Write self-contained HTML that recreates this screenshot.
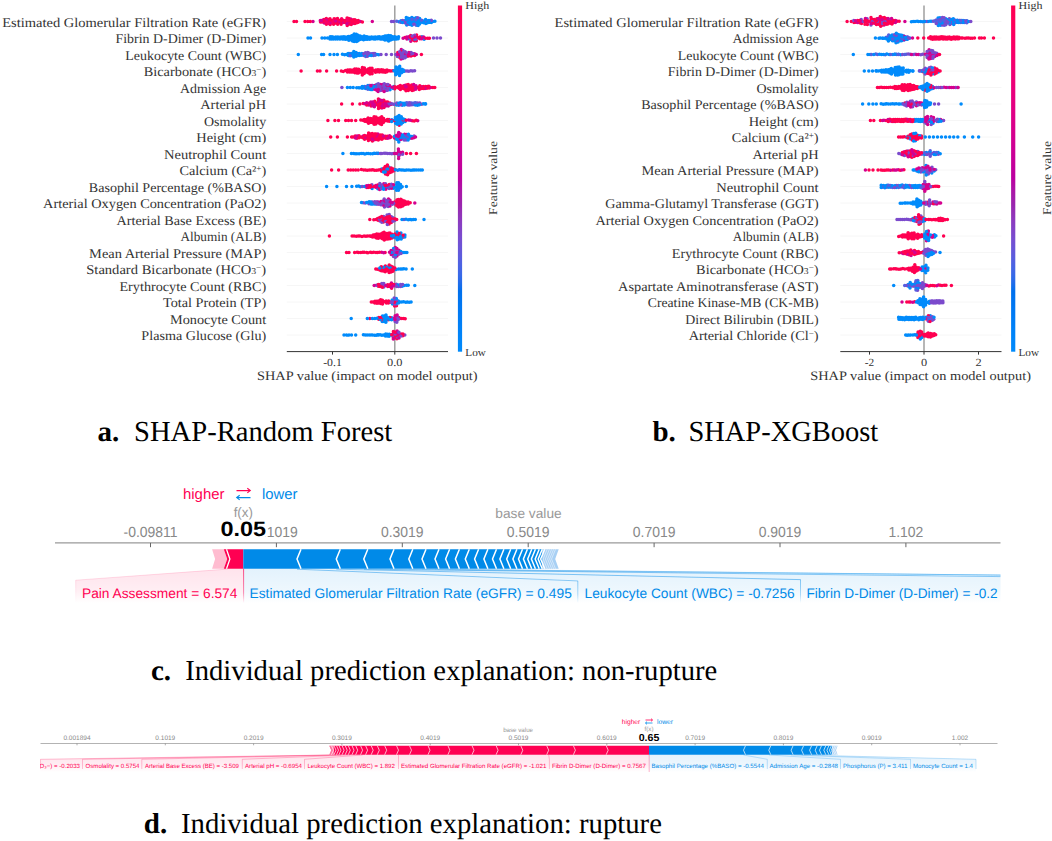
<!DOCTYPE html>
<html><head><meta charset="utf-8"><style>
html,body{margin:0;padding:0;background:#fff;}
body{width:1052px;height:841px;overflow:hidden;}
svg{display:block;}
</style></head><body>
<svg width="1052" height="841" viewBox="0 0 1052 841" text-rendering="geometricPrecision">
<defs>
<linearGradient id="cbar" x1="0" y1="0" x2="0" y2="1"><stop offset="0.000" stop-color="#ff0051"/><stop offset="0.025" stop-color="#ff0056"/><stop offset="0.050" stop-color="#ff005a"/><stop offset="0.075" stop-color="#fd005e"/><stop offset="0.100" stop-color="#fb0063"/><stop offset="0.125" stop-color="#f90067"/><stop offset="0.150" stop-color="#f6006b"/><stop offset="0.175" stop-color="#f30070"/><stop offset="0.200" stop-color="#f00074"/><stop offset="0.225" stop-color="#ed0078"/><stop offset="0.250" stop-color="#e9007c"/><stop offset="0.275" stop-color="#e60080"/><stop offset="0.300" stop-color="#e20084"/><stop offset="0.325" stop-color="#de0088"/><stop offset="0.350" stop-color="#d9008b"/><stop offset="0.375" stop-color="#d5008f"/><stop offset="0.400" stop-color="#d00093"/><stop offset="0.425" stop-color="#cb0096"/><stop offset="0.450" stop-color="#c60099"/><stop offset="0.475" stop-color="#c0009c"/><stop offset="0.500" stop-color="#bb00a0"/><stop offset="0.525" stop-color="#b010a5"/><stop offset="0.550" stop-color="#a51ca9"/><stop offset="0.575" stop-color="#9a25ae"/><stop offset="0.600" stop-color="#9332b7"/><stop offset="0.625" stop-color="#8b3cc0"/><stop offset="0.650" stop-color="#8145c8"/><stop offset="0.675" stop-color="#774ed0"/><stop offset="0.700" stop-color="#6a55d7"/><stop offset="0.725" stop-color="#5c5cdd"/><stop offset="0.750" stop-color="#4b63e3"/><stop offset="0.775" stop-color="#3b68e7"/><stop offset="0.800" stop-color="#236cea"/><stop offset="0.825" stop-color="#0070ed"/><stop offset="0.850" stop-color="#0074f0"/><stop offset="0.875" stop-color="#0078f3"/><stop offset="0.900" stop-color="#007cf5"/><stop offset="0.925" stop-color="#0080f7"/><stop offset="0.950" stop-color="#0084f9"/><stop offset="0.975" stop-color="#0087fa"/><stop offset="1.000" stop-color="#008bfb"/></linearGradient>
<clipPath id="clipc"><rect x="0" y="440" width="1000.5" height="200"/></clipPath>
<clipPath id="clipd"><rect x="40" y="700" width="960" height="100"/></clipPath>
</defs>
<line x1="286.8" x2="448" y1="21.5" y2="21.5" stroke="#f6f6f6" stroke-width="1"/>
<line x1="286.8" x2="448" y1="38.0" y2="38.0" stroke="#f6f6f6" stroke-width="1"/>
<line x1="286.8" x2="448" y1="54.5" y2="54.5" stroke="#f6f6f6" stroke-width="1"/>
<line x1="286.8" x2="448" y1="71.0" y2="71.0" stroke="#f6f6f6" stroke-width="1"/>
<line x1="286.8" x2="448" y1="87.5" y2="87.5" stroke="#f6f6f6" stroke-width="1"/>
<line x1="286.8" x2="448" y1="104.0" y2="104.0" stroke="#f6f6f6" stroke-width="1"/>
<line x1="286.8" x2="448" y1="120.5" y2="120.5" stroke="#f6f6f6" stroke-width="1"/>
<line x1="286.8" x2="448" y1="137.0" y2="137.0" stroke="#f6f6f6" stroke-width="1"/>
<line x1="286.8" x2="448" y1="153.5" y2="153.5" stroke="#f6f6f6" stroke-width="1"/>
<line x1="286.8" x2="448" y1="170.0" y2="170.0" stroke="#f6f6f6" stroke-width="1"/>
<line x1="286.8" x2="448" y1="186.5" y2="186.5" stroke="#f6f6f6" stroke-width="1"/>
<line x1="286.8" x2="448" y1="203.0" y2="203.0" stroke="#f6f6f6" stroke-width="1"/>
<line x1="286.8" x2="448" y1="219.5" y2="219.5" stroke="#f6f6f6" stroke-width="1"/>
<line x1="286.8" x2="448" y1="236.0" y2="236.0" stroke="#f6f6f6" stroke-width="1"/>
<line x1="286.8" x2="448" y1="252.5" y2="252.5" stroke="#f6f6f6" stroke-width="1"/>
<line x1="286.8" x2="448" y1="269.0" y2="269.0" stroke="#f6f6f6" stroke-width="1"/>
<line x1="286.8" x2="448" y1="285.5" y2="285.5" stroke="#f6f6f6" stroke-width="1"/>
<line x1="286.8" x2="448" y1="302.0" y2="302.0" stroke="#f6f6f6" stroke-width="1"/>
<line x1="286.8" x2="448" y1="318.5" y2="318.5" stroke="#f6f6f6" stroke-width="1"/>
<line x1="286.8" x2="448" y1="335.0" y2="335.0" stroke="#f6f6f6" stroke-width="1"/>
<line x1="394.8" x2="394.8" y1="5.5" y2="351.5" stroke="#999" stroke-width="1.4"/>
<g fill="none" stroke-width="3.5" stroke-linecap="round">
<path d="M339.5 20.5h0M356.7 20.7h0M330.2 24.6h0M331.9 20.6h0M343.0 20.3h0M341.4 22.5h0M347.2 25.5h0M354.5 21.6h0M294.0 21.5h0" stroke="#ff0051"/>
<path d="M432.8 21.6h0M425.8 23.4h0M419.6 18.4h0M411.9 17.4h0M414.0 22.2h0" stroke="#008bfb"/>
<path d="M350.7 18.9h0M343.6 22.4h0M352.8 23.4h0" stroke="#d5008f"/>
<path d="M404.6 20.8h0M415.7 23.4h0M425.5 21.3h0M416.2 25.3h0M427.3 20.8h0" stroke="#555fe0"/>
<path d="M328.3 19.5h0" stroke="#f90067"/>
<path d="M406.7 25.1h0M412.0 25.3h0M419.8 20.3h0M434.9 21.3h0M412.1 23.1h0" stroke="#008bfb"/>
<path d="M334.1 18.8h0M334.1 22.5h0M330.0 18.7h0M350.9 22.7h0M358.3 20.6h0M337.4 20.6h0M326.3 18.5h0M347.3 21.7h0M356.9 22.8h0M327.8 21.6h0M337.7 22.2h0M345.2 22.5h0" stroke="#ff0051"/>
<path d="M333.7 20.6h0" stroke="#f90067"/>
<path d="M324.3 23.1h0M360.5 21.5h0M339.5 22.5h0" stroke="#d5008f"/>
<path d="M391.5 21.5h0M404.6 22.7h0" stroke="#7b4acc"/>
<path d="M416.0 17.8h0M431.3 22.6h0M429.4 22.2h0M418.1 25.5h0M427.5 22.7h0M418.0 19.8h0M398.9 21.8h0M417.6 23.5h0M421.7 22.2h0" stroke="#008bfb"/>
<path d="M341.6 18.8h0" stroke="#f90067"/>
<path d="M330.0 20.7h0M348.8 18.6h0M352.6 21.5h0M341.3 20.8h0M305.0 21.5h0M353.1 19.7h0" stroke="#ff0051"/>
<path d="M408.4 20.3h0" stroke="#555fe0"/>
<path d="M406.6 21.2h0M431.3 20.3h0M393.5 21.5h0M408.4 24.2h0" stroke="#7b4acc"/>
<path d="M349.0 22.5h0" stroke="#d5008f"/>
<path d="M419.6 24.1h0M414.1 20.4h0M416.2 21.5h0M410.5 22.6h0M412.3 21.1h0M413.9 18.5h0M429.0 20.4h0M425.6 19.5h0" stroke="#008bfb"/>
<path d="M320.5 22.0h0M358.3 22.3h0M335.6 19.3h0M335.5 23.1h0M326.4 24.2h0M337.7 24.2h0M324.0 19.4h0M348.8 24.2h0" stroke="#ff0051"/>
<path d="M326.3 20.2h0M372.3 21.5h0M346.9 23.7h0M335.7 21.1h0" stroke="#d5008f"/>
<path d="M400.6 22.2h0M413.8 24.3h0" stroke="#7b4acc"/>
<path d="M410.5 20.6h0M423.3 20.9h0M401.0 20.7h0M419.5 22.4h0M410.1 24.5h0M406.3 19.5h0" stroke="#008bfb"/>
<path d="M362.4 21.9h0M296.5 21.5h0M345.1 20.5h0M349.2 20.5h0M347.1 17.9h0M354.9 23.5h0M333.6 24.3h0M337.5 18.5h0" stroke="#ff0051"/>
<path d="M322.2 22.1h0M331.9 22.7h0M347.2 19.7h0" stroke="#f90067"/>
<path d="M320.3 20.5h0M313.0 21.5h0" stroke="#d5008f"/>
<path d="M421.6 20.3h0" stroke="#555fe0"/>
<path d="M406.6 23.0h0M402.6 20.5h0" stroke="#7b4acc"/>
<path d="M410.3 18.6h0M408.1 22.4h0M408.1 18.3h0M423.6 22.7h0M418.1 21.6h0M402.4 22.5h0M406.3 17.4h0" stroke="#008bfb"/>
<path d="M417.7 17.8h0" stroke="#7b4acc"/>
<path d="M329.7 22.9h0M322.4 20.2h0" stroke="#d5008f"/>
<path d="M351.2 24.6h0M310.3 21.5h0M351.0 20.7h0M307.7 21.5h0M354.9 19.7h0M324.5 21.1h0M341.1 24.3h0" stroke="#ff0051"/>
<path d="M326.0 22.1h0M328.3 23.4h0" stroke="#f90067"/>
<path d="M412.0 19.3h0M415.7 19.7h0M396.7 21.3h0" stroke="#555fe0"/>
<path d="M408.8 38.7h0M367.7 37.0h0M392.3 36.7h0M348.8 40.2h0M352.5 41.1h0M380.8 38.8h0M356.2 35.8h0M360.2 36.0h0M365.5 39.0h0M383.4 36.8h0M363.5 39.8h0M341.3 37.0h0M367.4 39.2h0M341.1 38.8h0M384.8 37.8h0M424.1 39.2h0M365.6 37.1h0M394.2 38.8h0M333.6 39.1h0M337.8 36.9h0M386.7 38.5h0M367.8 37.2h0M335.6 39.0h0M358.2 37.1h0M358.2 38.8h0M337.4 38.9h0M390.7 35.7h0" stroke="#008bfb"/>
<path d="M425.5 38.3h0M416.3 40.8h0M405.0 37.6h0" stroke="#ff0051"/>
<path d="M373.9 39.0h0M392.3 38.9h0M382.8 37.1h0M364.1 36.0h0M383.3 38.7h0M347.2 37.0h0M361.7 39.0h0M350.2 39.7h0M385.3 37.2h0M368.3 38.6h0M330.2 36.8h0M354.2 41.5h0M351.0 37.0h0M386.4 39.7h0M356.8 36.9h0M377.6 37.1h0M388.8 37.1h0M421.9 36.8h0M359.9 39.5h0M396.5 39.0h0M386.6 35.9h0M371.9 38.7h0M362.3 38.8h0M339.4 37.2h0" stroke="#008bfb"/>
<path d="M410.8 41.2h0M403.1 38.3h0" stroke="#d5008f"/>
<path d="M416.6 35.1h0M410.7 35.4h0M419.9 38.7h0" stroke="#ff0051"/>
<path d="M410.5 39.1h0" stroke="#7b4acc"/>
<path d="M398.6 36.8h0M344.9 38.8h0M379.2 38.1h0M358.3 37.1h0M356.7 39.0h0M352.3 35.5h0M356.3 34.2h0M375.3 37.1h0M375.5 39.0h0M390.9 38.6h0M384.9 39.9h0M392.6 38.9h0M362.6 37.0h0M308.0 38.0h0M388.4 39.2h0M364.0 39.4h0M349.0 37.2h0M344.9 37.2h0M396.2 37.2h0M348.4 36.4h0M379.3 36.7h0M354.1 36.1h0M339.7 39.1h0M394.5 36.7h0M381.1 39.1h0M335.8 37.1h0" stroke="#008bfb"/>
<path d="M416.5 37.1h0M414.5 40.8h0M412.7 39.8h0" stroke="#ff0051"/>
<path d="M437.0 38.0h0" stroke="#7b4acc"/>
<path d="M342.8 38.8h0M390.6 39.9h0M359.9 37.9h0M343.6 37.0h0M366.4 36.8h0M356.5 41.5h0M387.1 36.6h0M377.6 38.7h0M379.3 38.8h0M392.7 37.4h0M344.7 37.0h0M394.6 37.2h0M350.3 37.9h0M350.6 36.2h0M371.6 37.1h0M354.2 34.0h0M388.6 37.1h0M354.5 37.3h0M414.6 39.0h0M310.5 38.0h0M340.7 37.6h0M388.6 35.4h0M369.9 37.3h0" stroke="#008bfb"/>
<path d="M416.1 38.9h0M433.5 38.0h0M414.6 35.2h0" stroke="#7b4acc"/>
<path d="M420.0 36.9h0" stroke="#ff0051"/>
<path d="M421.7 38.7h0M408.9 36.8h0" stroke="#d5008f"/>
<path d="M410.5 37.3h0M429.4 38.3h0M412.5 38.1h0" stroke="#ff0051"/>
<path d="M348.8 38.1h0M354.3 40.0h0M383.0 39.1h0M360.5 37.0h0M398.2 38.8h0M390.8 37.0h0M322.0 38.0h0M331.7 38.9h0M346.7 37.9h0M354.1 37.8h0M394.8 38.9h0M352.5 36.9h0M343.1 37.0h0M346.9 39.1h0M358.2 38.7h0M384.9 39.3h0M333.6 37.3h0M363.5 37.9h0M390.6 37.7h0M386.6 37.8h0M373.6 37.3h0M324.8 38.0h0M356.0 39.9h0" stroke="#008bfb"/>
<path d="M440.5 38.0h0" stroke="#7b4acc"/>
<path d="M414.3 37.1h0M406.8 37.1h0" stroke="#d5008f"/>
<path d="M388.6 41.0h0M350.8 38.9h0M354.5 39.1h0M360.6 38.8h0M385.0 35.9h0M345.5 39.3h0M358.0 40.7h0M332.0 36.7h0M352.2 39.0h0M327.5 38.0h0M352.4 37.1h0M356.4 38.0h0M369.7 39.3h0M363.9 37.3h0M352.8 38.8h0M361.7 36.9h0M389.2 39.1h0M381.3 37.3h0M343.1 39.0h0M381.0 37.3h0M366.2 39.0h0M358.1 35.2h0M348.9 38.9h0M329.9 38.9h0" stroke="#008bfb"/>
<path d="M406.9 38.9h0M423.6 37.1h0" stroke="#d5008f"/>
<path d="M427.7 38.2h0M418.3 37.7h0" stroke="#ff0051"/>
<path d="M412.2 36.1h0" stroke="#7b4acc"/>
<path d="M363.8 55.6h0M405.2 51.7h0M373.3 55.4h0M403.0 58.4h0" stroke="#7b4acc"/>
<path d="M334.0 54.5h0M321.6 54.5h0M348.4 55.4h0M361.5 54.3h0M344.6 54.8h0M353.7 53.4h0" stroke="#008bfb"/>
<path d="M371.3 53.7h0M360.0 54.6h0M365.7 56.6h0" stroke="#555fe0"/>
<path d="M401.0 59.0h0" stroke="#d5008f"/>
<path d="M412.6 55.3h0" stroke="#ff0051"/>
<path d="M357.4 53.5h0M353.8 55.5h0M361.6 55.2h0M330.0 54.5h0M355.9 52.4h0" stroke="#008bfb"/>
<path d="M358.0 54.5h0M373.1 53.5h0M406.9 56.5h0M391.5 54.5h0M367.5 56.3h0" stroke="#7b4acc"/>
<path d="M399.3 53.6h0M397.8 52.5h0M411.0 56.1h0" stroke="#ff0051"/>
<path d="M407.2 54.7h0M401.3 49.6h0" stroke="#d5008f"/>
<path d="M399.5 55.8h0M414.5 53.7h0" stroke="#d5008f"/>
<path d="M403.0 50.4h0M386.2 54.5h0M403.1 54.3h0M374.8 53.4h0" stroke="#7b4acc"/>
<path d="M355.6 54.3h0M346.4 54.4h0M376.9 54.4h0M361.9 53.4h0M342.4 54.2h0M337.4 54.5h0M369.2 55.2h0" stroke="#008bfb"/>
<path d="M401.2 51.6h0M414.6 55.4h0" stroke="#ff0051"/>
<path d="M365.4 54.7h0M357.9 55.4h0M353.8 57.1h0M359.3 53.4h0" stroke="#008bfb"/>
<path d="M369.2 53.3h0M363.8 53.7h0M367.7 52.4h0M401.5 55.5h0M395.8 54.4h0M401.0 53.6h0M399.6 51.8h0M405.0 55.6h0" stroke="#7b4acc"/>
<path d="M399.5 57.3h0M408.6 56.1h0" stroke="#ff0051"/>
<path d="M349.9 53.6h0" stroke="#555fe0"/>
<path d="M397.4 56.4h0M365.5 52.7h0M367.4 54.6h0M405.1 57.7h0M403.4 56.1h0M411.0 52.4h0" stroke="#7b4acc"/>
<path d="M351.9 55.6h0M359.7 55.5h0M378.7 54.7h0M298.3 54.5h0M371.2 55.5h0" stroke="#008bfb"/>
<path d="M397.7 54.6h0M408.9 52.5h0M416.3 54.6h0M405.3 53.6h0" stroke="#d5008f"/>
<path d="M356.0 56.3h0M348.2 53.4h0M323.6 54.5h0M351.7 53.6h0M353.8 51.5h0" stroke="#008bfb"/>
<path d="M350.1 55.7h0M375.1 55.3h0" stroke="#555fe0"/>
<path d="M421.4 54.5h0" stroke="#ff0051"/>
<path d="M381.0 54.5h0M412.7 53.6h0M410.9 54.1h0M403.2 52.3h0M401.2 57.3h0M406.8 52.9h0" stroke="#7b4acc"/>
<path d="M408.8 54.3h0" stroke="#d5008f"/>
<path d="M362.5 69.2h0M372.1 70.1h0M345.5 70.6h0M354.9 70.9h0M369.8 71.8h0M358.9 71.3h0M368.3 68.9h0M349.3 70.0h0M347.4 72.0h0M347.6 70.1h0M364.2 73.6h0M341.3 71.0h0M362.2 72.9h0" stroke="#ff0051"/>
<path d="M412.6 71.0h0M405.3 71.1h0" stroke="#7b4acc"/>
<path d="M395.8 72.7h0" stroke="#008bfb"/>
<path d="M375.5 72.3h0M385.2 70.4h0M349.5 72.0h0M362.4 67.5h0M360.4 71.9h0M387.0 69.9h0M381.7 71.8h0M389.3 70.8h0M358.6 69.2h0M392.8 70.8h0M364.2 69.9h0M364.4 67.9h0" stroke="#ff0051"/>
<path d="M410.8 70.7h0M407.1 70.9h0" stroke="#7b4acc"/>
<path d="M397.8 69.8h0M399.7 66.2h0" stroke="#008bfb"/>
<path d="M399.5 75.6h0M399.5 68.1h0M399.9 70.0h0M398.0 71.7h0M403.6 71.6h0" stroke="#008bfb"/>
<path d="M383.1 70.0h0M377.9 69.7h0M336.6 71.0h0M374.0 70.8h0M371.8 72.0h0M379.5 72.0h0M360.8 70.2h0M387.0 71.7h0M383.2 71.9h0M358.4 73.1h0M368.3 70.8h0" stroke="#ff0051"/>
<path d="M356.9 71.2h0M343.3 71.4h0M356.5 69.1h0M354.7 69.1h0M372.1 73.8h0M362.7 71.0h0M390.9 71.1h0M370.0 74.0h0M350.8 70.1h0M351.2 72.0h0" stroke="#ff0051"/>
<path d="M396.0 67.1h0M401.8 70.9h0M403.3 69.9h0M394.0 70.7h0M399.5 71.9h0M397.7 68.0h0" stroke="#008bfb"/>
<path d="M372.0 68.2h0M301.1 71.0h0M362.3 74.9h0M370.0 68.2h0M368.3 72.7h0M366.3 70.1h0M366.3 72.1h0M352.9 71.9h0M320.0 71.0h0" stroke="#ff0051"/>
<path d="M395.7 74.7h0M396.1 68.9h0M401.5 72.7h0M395.7 70.7h0M399.8 73.7h0" stroke="#008bfb"/>
<path d="M414.6 70.7h0" stroke="#7b4acc"/>
<path d="M379.5 70.0h0M385.3 72.2h0M375.8 70.1h0M354.9 72.8h0M356.9 73.1h0M377.6 71.8h0M317.4 71.0h0M370.4 70.0h0M353.1 69.9h0M364.4 71.9h0M381.3 69.8h0M326.6 71.0h0" stroke="#ff0051"/>
<path d="M401.8 69.2h0M397.8 73.5h0" stroke="#008bfb"/>
<path d="M408.8 71.3h0" stroke="#7b4acc"/>
<path d="M341.9 87.5h0" stroke="#7b4acc"/>
<path d="M382.3 88.4h0M367.1 86.7h0M385.7 88.5h0M381.9 90.2h0" stroke="#d5008f"/>
<path d="M350.3 87.5h0M369.7 87.6h0M393.2 88.5h0M368.0 85.5h0M371.4 87.3h0M367.1 88.3h0" stroke="#008bfb"/>
<path d="M419.4 87.4h0M411.8 86.6h0M408.0 86.6h0M409.9 87.5h0M429.1 88.1h0M398.9 88.3h0M400.3 85.4h0M406.2 84.9h0M413.7 90.0h0M397.0 87.3h0" stroke="#ff0051"/>
<path d="M394.8 88.7h0M408.3 88.7h0M408.2 90.4h0M413.9 86.4h0M409.8 85.9h0" stroke="#ff0051"/>
<path d="M385.9 86.8h0M368.6 88.3h0M365.9 88.5h0M370.8 89.6h0M389.4 87.7h0M372.6 87.6h0M372.0 85.5h0M390.0 89.7h0" stroke="#008bfb"/>
<path d="M382.1 86.6h0M389.5 85.6h0M430.7 87.5h0M378.1 91.6h0M416.0 85.7h0" stroke="#d5008f"/>
<path d="M380.2 90.5h0M383.9 89.6h0M376.6 84.5h0" stroke="#7b4acc"/>
<path d="M402.4 88.3h0M406.0 90.7h0M425.5 86.5h0M411.6 88.8h0" stroke="#ff0051"/>
<path d="M372.3 89.6h0M393.8 86.5h0M347.4 87.5h0" stroke="#008bfb"/>
<path d="M404.4 85.4h0M386.1 84.8h0M368.9 86.5h0M387.9 86.6h0M364.8 87.5h0M374.3 85.4h0M382.4 84.5h0M404.6 87.2h0" stroke="#d5008f"/>
<path d="M387.8 84.6h0M387.9 88.4h0M376.4 88.2h0M384.1 87.5h0" stroke="#7b4acc"/>
<path d="M369.6 85.4h0M367.9 89.3h0" stroke="#555fe0"/>
<path d="M417.7 87.4h0M428.8 86.3h0M394.7 86.7h0M412.1 90.4h0M408.2 84.6h0M423.3 86.5h0M402.6 86.3h0M434.8 87.4h0M411.7 85.0h0M404.5 89.1h0M413.9 88.2h0" stroke="#ff0051"/>
<path d="M353.2 87.5h0M373.9 88.5h0M364.4 86.4h0M376.3 86.2h0M362.2 86.4h0" stroke="#008bfb"/>
<path d="M380.3 84.6h0M421.2 86.8h0M374.7 89.2h0" stroke="#d5008f"/>
<path d="M378.3 87.7h0M374.3 87.3h0" stroke="#7b4acc"/>
<path d="M370.9 87.4h0M372.5 85.6h0M385.7 90.5h0M387.5 90.3h0M384.3 83.7h0M383.7 85.7h0" stroke="#7b4acc"/>
<path d="M419.8 85.7h0M426.9 88.3h0M427.4 86.4h0M406.4 88.6h0M400.5 87.4h0" stroke="#ff0051"/>
<path d="M360.0 87.7h0M370.1 89.2h0M362.1 88.2h0M364.2 88.1h0M358.7 87.7h0M371.6 89.4h0" stroke="#008bfb"/>
<path d="M366.2 86.5h0" stroke="#555fe0"/>
<path d="M391.9 87.2h0M406.1 86.8h0M415.7 87.7h0" stroke="#d5008f"/>
<path d="M380.2 86.5h0M378.2 85.8h0M380.1 88.3h0M378.3 83.8h0" stroke="#7b4acc"/>
<path d="M356.7 87.8h0M373.5 86.7h0M367.7 87.5h0" stroke="#008bfb"/>
<path d="M371.0 85.6h0M378.3 89.5h0M413.7 84.4h0M425.0 88.4h0M376.7 90.2h0M415.7 89.3h0M384.1 91.4h0" stroke="#d5008f"/>
<path d="M421.7 88.5h0M400.4 89.4h0M432.9 87.4h0M423.4 88.4h0M398.5 86.4h0M419.3 89.5h0M409.9 89.5h0" stroke="#ff0051"/>
<path d="M383.9 101.9h0M389.8 104.8h0M388.0 103.8h0" stroke="#d5008f"/>
<path d="M411.9 104.7h0M419.7 103.0h0M395.5 103.9h0M394.9 104.3h0M408.1 103.1h0M396.9 102.9h0" stroke="#7b4acc"/>
<path d="M406.2 104.6h0" stroke="#008bfb"/>
<path d="M363.2 103.6h0M389.9 103.1h0M341.6 104.0h0M385.9 102.1h0M376.3 103.1h0" stroke="#ff0051"/>
<path d="M414.1 103.0h0M411.7 102.9h0" stroke="#555fe0"/>
<path d="M381.9 108.1h0M384.4 103.7h0" stroke="#d5008f"/>
<path d="M378.4 99.1h0M374.8 101.2h0M369.1 103.3h0M378.7 106.8h0M374.6 103.1h0M387.6 102.1h0M359.9 104.0h0" stroke="#ff0051"/>
<path d="M402.2 103.2h0" stroke="#008bfb"/>
<path d="M417.5 103.1h0M387.9 104.3h0M421.7 104.2h0" stroke="#7b4acc"/>
<path d="M423.4 103.7h0M419.4 104.8h0M396.6 105.0h0M400.4 102.8h0M425.3 103.8h0" stroke="#008bfb"/>
<path d="M413.5 104.6h0" stroke="#555fe0"/>
<path d="M380.5 107.6h0M391.4 104.2h0M371.0 104.2h0M384.0 107.5h0M371.1 106.1h0" stroke="#ff0051"/>
<path d="M372.8 105.7h0M368.6 105.0h0M364.8 103.8h0" stroke="#d5008f"/>
<path d="M408.0 105.0h0" stroke="#7b4acc"/>
<path d="M380.0 102.1h0M383.8 100.2h0M383.8 105.7h0M366.7 104.9h0M376.7 104.7h0" stroke="#ff0051"/>
<path d="M388.2 106.0h0M374.6 104.8h0M372.8 102.0h0M385.9 103.9h0M372.7 103.8h0" stroke="#d5008f"/>
<path d="M417.5 105.2h0M402.3 105.2h0M398.7 105.2h0M404.3 105.1h0" stroke="#008bfb"/>
<path d="M406.5 102.7h0" stroke="#555fe0"/>
<path d="M397.5 104.1h0M409.7 102.8h0M389.6 103.9h0" stroke="#7b4acc"/>
<path d="M415.4 104.9h0M404.1 103.3h0" stroke="#008bfb"/>
<path d="M378.5 101.0h0M352.4 104.0h0M380.1 105.7h0M382.3 102.4h0" stroke="#ff0051"/>
<path d="M382.0 100.6h0M370.8 102.1h0M385.7 106.0h0M374.4 106.8h0" stroke="#d5008f"/>
<path d="M415.5 102.8h0" stroke="#555fe0"/>
<path d="M380.1 100.0h0M382.0 104.3h0M366.7 102.7h0M378.5 103.1h0M382.2 106.1h0" stroke="#d5008f"/>
<path d="M409.8 104.9h0M391.8 103.7h0M400.7 104.7h0M393.5 104.2h0" stroke="#7b4acc"/>
<path d="M398.7 103.2h0M425.6 104.0h0" stroke="#008bfb"/>
<path d="M378.4 104.7h0M380.0 103.7h0M378.5 108.6h0" stroke="#ff0051"/>
<path d="M364.8 121.3h0M374.1 116.8h0M362.8 120.2h0M395.3 121.5h0M393.5 120.6h0M377.7 118.6h0M399.2 125.2h0M375.9 116.9h0M345.7 120.5h0M371.8 120.8h0M373.8 120.7h0M375.8 122.5h0M387.5 121.1h0" stroke="#ff0051"/>
<path d="M401.2 120.2h0M395.5 119.6h0" stroke="#008bfb"/>
<path d="M399.1 115.6h0M401.2 124.0h0M395.4 117.5h0M402.8 122.5h0M399.4 123.3h0" stroke="#008bfb"/>
<path d="M403.1 120.4h0M381.6 124.6h0M366.3 119.6h0M368.1 119.8h0M348.5 120.5h0M381.7 120.5h0M389.0 119.6h0M383.6 122.3h0M412.2 120.7h0" stroke="#ff0051"/>
<path d="M417.7 120.7h0" stroke="#d5008f"/>
<path d="M399.2 121.5h0M395.6 123.2h0M389.9 120.4h0M397.3 124.3h0M399.2 117.7h0" stroke="#008bfb"/>
<path d="M381.3 122.8h0M381.7 116.8h0M334.9 120.5h0M379.6 119.8h0M370.4 118.6h0M377.5 120.4h0M377.8 122.4h0M416.2 120.3h0M379.9 123.7h0M379.6 121.6h0" stroke="#ff0051"/>
<path d="M381.8 119.0h0M376.2 120.7h0M364.3 119.6h0M351.5 120.5h0M414.2 120.9h0M368.1 117.9h0M338.5 120.5h0M327.9 120.5h0M383.6 118.6h0M383.6 120.5h0M374.0 122.6h0M355.7 120.5h0" stroke="#ff0051"/>
<path d="M401.0 118.3h0M399.2 119.6h0" stroke="#008bfb"/>
<path d="M408.5 120.1h0" stroke="#d5008f"/>
<path d="M410.3 120.3h0" stroke="#d5008f"/>
<path d="M402.9 118.8h0M405.2 121.6h0M401.3 116.7h0M404.7 119.6h0M391.9 119.8h0" stroke="#008bfb"/>
<path d="M360.8 120.1h0M368.5 121.3h0M406.1 120.2h0M389.4 121.3h0M372.0 118.7h0M375.6 118.8h0M370.0 120.8h0M391.3 120.5h0M375.8 124.1h0" stroke="#ff0051"/>
<path d="M391.6 121.4h0M401.2 122.3h0M397.1 120.6h0M397.4 118.6h0M397.4 116.8h0M397.4 122.4h0" stroke="#008bfb"/>
<path d="M374.2 118.5h0M372.2 122.4h0M370.0 122.4h0M374.1 124.2h0M379.6 117.9h0M366.4 121.6h0M368.5 123.3h0M385.5 120.5h0M387.4 119.5h0" stroke="#ff0051"/>
<path d="M383.6 138.0h0M355.2 136.0h0M380.1 138.8h0M357.0 138.2h0M377.9 136.1h0M385.9 138.2h0M370.6 137.7h0M366.7 136.0h0M368.5 134.8h0" stroke="#ff0051"/>
<path d="M400.5 135.8h0M414.1 135.9h0M396.8 137.3h0" stroke="#7b4acc"/>
<path d="M368.6 138.8h0M400.6 133.9h0M406.4 134.5h0" stroke="#d5008f"/>
<path d="M405.9 138.3h0M410.0 138.3h0" stroke="#008bfb"/>
<path d="M374.6 134.1h0M385.5 136.3h0M353.1 137.0h0M359.0 135.8h0M372.4 141.0h0M372.4 137.2h0M364.6 139.2h0M381.6 137.2h0M376.1 137.8h0M378.3 139.9h0" stroke="#ff0051"/>
<path d="M404.6 134.3h0M398.7 132.4h0M374.5 139.7h0M377.9 134.1h0" stroke="#d5008f"/>
<path d="M402.7 138.8h0" stroke="#008bfb"/>
<path d="M406.4 136.1h0" stroke="#7b4acc"/>
<path d="M372.2 135.1h0M368.6 132.9h0M337.4 137.0h0M366.6 138.2h0M382.2 135.1h0M347.4 137.0h0M372.2 133.4h0M381.9 139.2h0M378.2 138.1h0M374.0 138.0h0" stroke="#ff0051"/>
<path d="M394.6 138.1h0M363.2 136.0h0M376.2 136.1h0M413.8 137.7h0M398.7 138.1h0" stroke="#d5008f"/>
<path d="M394.6 136.3h0" stroke="#008bfb"/>
<path d="M364.9 137.3h0M389.8 137.7h0M357.1 136.1h0M355.5 137.9h0" stroke="#d5008f"/>
<path d="M376.0 134.1h0M351.6 137.0h0M361.1 137.1h0M330.7 137.0h0M370.3 133.9h0M362.8 137.8h0" stroke="#ff0051"/>
<path d="M396.6 139.2h0M411.7 136.4h0M398.6 139.9h0M407.8 138.1h0" stroke="#008bfb"/>
<path d="M402.7 137.1h0M408.1 136.3h0" stroke="#7b4acc"/>
<path d="M370.6 139.6h0M387.4 136.2h0M359.1 137.8h0M374.3 136.0h0M380.2 136.7h0" stroke="#ff0051"/>
<path d="M400.7 139.6h0M396.4 135.5h0M389.6 135.8h0M411.9 138.3h0M383.5 136.0h0M398.3 134.4h0M415.5 137.0h0" stroke="#d5008f"/>
<path d="M406.1 140.0h0M404.0 136.1h0" stroke="#7b4acc"/>
<path d="M408.4 134.3h0M404.1 137.8h0" stroke="#008bfb"/>
<path d="M380.3 134.9h0M364.6 135.5h0M391.1 137.1h0M376.2 139.5h0M368.4 140.4h0M368.5 136.9h0M370.7 135.8h0" stroke="#ff0051"/>
<path d="M402.6 134.9h0M408.1 140.0h0M398.8 141.9h0M400.6 137.6h0M410.1 136.3h0" stroke="#008bfb"/>
<path d="M372.2 139.0h0M398.9 136.3h0M387.7 138.2h0" stroke="#d5008f"/>
<path d="M404.2 140.0h0" stroke="#7b4acc"/>
<path d="M381.8 153.5h0M387.7 153.5h0" stroke="#7b4acc"/>
<path d="M363.1 153.4h0M351.4 153.4h0M342.9 153.5h0" stroke="#008bfb"/>
<path d="M398.7 152.8h0" stroke="#d5008f"/>
<path d="M410.6 153.5h0" stroke="#ff0051"/>
<path d="M376.4 153.3h0M374.1 153.3h0M359.1 153.7h0" stroke="#008bfb"/>
<path d="M402.5 152.3h0" stroke="#d5008f"/>
<path d="M393.4 153.6h0M402.6 154.3h0M378.0 153.4h0" stroke="#7b4acc"/>
<path d="M378.1 153.2h0M353.5 153.5h0M361.2 153.4h0" stroke="#008bfb"/>
<path d="M391.8 153.7h0M400.3 154.3h0" stroke="#7b4acc"/>
<path d="M400.4 152.5h0M398.8 156.3h0" stroke="#d5008f"/>
<path d="M380.4 153.6h0M398.5 154.4h0" stroke="#7b4acc"/>
<path d="M394.6 153.4h0M396.4 153.4h0" stroke="#d5008f"/>
<path d="M356.9 153.8h0M370.4 153.7h0M364.9 153.9h0" stroke="#008bfb"/>
<path d="M398.4 149.0h0M398.6 158.5h0" stroke="#d5008f"/>
<path d="M366.8 153.5h0" stroke="#008bfb"/>
<path d="M384.1 153.2h0M389.9 153.5h0" stroke="#7b4acc"/>
<path d="M416.4 153.5h0" stroke="#ff0051"/>
<path d="M368.3 153.5h0M355.1 153.7h0M372.6 153.8h0" stroke="#008bfb"/>
<path d="M406.4 153.5h0" stroke="#ff0051"/>
<path d="M398.5 150.9h0" stroke="#d5008f"/>
<path d="M385.9 153.3h0" stroke="#7b4acc"/>
<path d="M385.7 168.3h0M381.7 169.0h0M401.2 169.9h0M385.6 170.2h0M389.1 167.2h0" stroke="#008bfb"/>
<path d="M383.8 168.3h0M387.6 174.7h0M367.3 170.2h0M380.1 169.7h0M389.2 169.0h0" stroke="#ff0051"/>
<path d="M355.7 170.0h0M374.5 170.3h0M389.0 170.7h0M363.7 170.0h0M371.2 170.1h0M387.5 166.9h0M381.6 171.3h0M387.2 172.8h0M365.4 170.0h0" stroke="#ff0051"/>
<path d="M420.4 169.9h0" stroke="#008bfb"/>
<path d="M389.5 172.8h0M383.8 169.9h0M376.4 170.2h0M391.3 170.1h0M378.3 170.1h0M393.3 169.0h0" stroke="#ff0051"/>
<path d="M397.8 170.3h0M412.9 170.0h0M411.0 170.2h0M399.3 169.8h0" stroke="#008bfb"/>
<path d="M393.4 170.9h0M391.3 168.0h0M395.2 169.7h0M358.2 170.0h0M387.4 171.0h0M385.2 166.6h0" stroke="#ff0051"/>
<path d="M406.7 169.9h0M414.4 170.1h0M395.4 169.7h0M422.3 170.1h0" stroke="#008bfb"/>
<path d="M408.9 170.1h0M404.9 170.2h0M403.0 169.9h0M418.3 170.0h0M416.3 170.1h0" stroke="#008bfb"/>
<path d="M348.2 170.0h0M385.5 174.0h0M391.4 172.0h0M369.3 169.9h0M353.2 170.0h0" stroke="#ff0051"/>
<path d="M338.6 170.0h0M372.8 169.8h0M350.7 170.0h0M387.4 165.0h0M361.4 169.6h0M331.6 170.0h0" stroke="#ff0051"/>
<path d="M383.5 171.9h0M387.7 169.0h0M385.2 171.9h0" stroke="#008bfb"/>
<path d="M396.8 188.3h0M400.5 184.6h0M360.3 186.7h0M346.5 186.5h0M377.8 188.7h0M372.1 188.5h0M397.0 186.6h0M396.5 190.3h0" stroke="#008bfb"/>
<path d="M379.6 189.4h0" stroke="#d5008f"/>
<path d="M377.7 184.9h0M381.4 186.7h0M379.6 187.5h0" stroke="#ff0051"/>
<path d="M396.7 184.5h0M389.1 186.4h0M398.5 188.3h0M358.6 186.1h0M402.2 186.7h0M400.7 186.5h0M364.3 186.4h0" stroke="#008bfb"/>
<path d="M381.4 188.7h0M362.1 186.4h0" stroke="#7b4acc"/>
<path d="M385.8 187.3h0" stroke="#ff0051"/>
<path d="M366.7 187.4h0" stroke="#d5008f"/>
<path d="M383.6 185.5h0M351.9 186.5h0M393.3 188.3h0M398.5 190.2h0M387.2 187.5h0" stroke="#008bfb"/>
<path d="M372.1 186.5h0" stroke="#ff0051"/>
<path d="M368.5 185.6h0M377.7 186.8h0M375.8 185.5h0M383.8 183.7h0" stroke="#d5008f"/>
<path d="M385.5 183.8h0" stroke="#7b4acc"/>
<path d="M387.1 185.5h0M375.7 187.3h0" stroke="#d5008f"/>
<path d="M371.9 184.8h0M389.2 188.4h0" stroke="#7b4acc"/>
<path d="M398.5 182.8h0M394.5 186.9h0M398.5 186.3h0M406.4 186.5h0M379.9 185.7h0M356.6 186.2h0" stroke="#008bfb"/>
<path d="M370.1 187.3h0" stroke="#ff0051"/>
<path d="M398.3 184.6h0M393.2 186.8h0M400.6 188.1h0M366.2 186.3h0" stroke="#008bfb"/>
<path d="M389.3 184.6h0M368.1 187.5h0M370.3 185.4h0" stroke="#ff0051"/>
<path d="M366.7 185.8h0M385.8 189.3h0" stroke="#d5008f"/>
<path d="M391.4 184.3h0M381.6 184.9h0" stroke="#7b4acc"/>
<path d="M396.9 182.7h0M326.6 186.5h0M383.6 189.2h0M336.9 186.5h0M383.7 187.3h0" stroke="#008bfb"/>
<path d="M391.4 188.3h0M393.4 184.8h0" stroke="#d5008f"/>
<path d="M374.2 186.4h0M385.3 185.6h0" stroke="#ff0051"/>
<path d="M391.0 186.2h0M379.8 183.5h0" stroke="#7b4acc"/>
<path d="M410.2 202.8h0M395.0 203.9h0M396.8 203.6h0M394.6 202.0h0M398.5 203.1h0M406.1 202.1h0M404.2 203.1h0M402.6 205.9h0M400.6 203.2h0" stroke="#ff0051"/>
<path d="M382.9 201.0h0M388.6 202.6h0M386.4 202.0h0" stroke="#7b4acc"/>
<path d="M388.5 199.1h0" stroke="#d5008f"/>
<path d="M400.4 205.0h0M398.5 206.9h0" stroke="#ff0051"/>
<path d="M393.9 203.3h0M384.5 207.0h0M379.0 202.5h0M374.7 201.7h0M378.3 202.0h0M384.2 199.1h0M372.3 201.9h0" stroke="#7b4acc"/>
<path d="M384.4 204.8h0M377.0 201.9h0M382.7 205.0h0" stroke="#d5008f"/>
<path d="M374.7 203.9h0" stroke="#008bfb"/>
<path d="M400.7 199.2h0M404.2 204.7h0M400.7 206.7h0M396.8 202.0h0M400.6 201.2h0M402.7 204.0h0" stroke="#ff0051"/>
<path d="M388.1 206.4h0M386.4 205.8h0M368.9 203.8h0M384.7 202.8h0" stroke="#7b4acc"/>
<path d="M378.6 204.1h0M390.0 200.2h0" stroke="#d5008f"/>
<path d="M370.8 201.9h0" stroke="#008bfb"/>
<path d="M390.0 206.1h0M384.4 200.9h0M380.9 201.4h0M380.7 203.1h0" stroke="#d5008f"/>
<path d="M386.2 204.3h0M376.4 202.2h0M380.8 204.8h0M388.1 200.9h0M378.3 203.8h0M363.1 202.8h0" stroke="#7b4acc"/>
<path d="M396.9 199.9h0M398.8 201.3h0" stroke="#ff0051"/>
<path d="M376.2 203.9h0" stroke="#008bfb"/>
<path d="M370.9 204.1h0M372.8 204.0h0M361.5 202.6h0" stroke="#008bfb"/>
<path d="M390.2 202.2h0M390.4 203.9h0M414.8 203.0h0" stroke="#d5008f"/>
<path d="M388.5 204.5h0M386.3 200.4h0" stroke="#7b4acc"/>
<path d="M408.2 203.9h0M404.4 201.1h0M402.6 202.1h0M396.8 205.7h0M408.1 202.0h0" stroke="#ff0051"/>
<path d="M402.3 200.2h0M398.3 199.4h0M405.9 204.2h0M398.5 205.3h0" stroke="#ff0051"/>
<path d="M382.4 203.0h0M375.1 202.9h0M377.1 204.0h0M365.2 203.0h0M392.4 204.2h0" stroke="#7b4acc"/>
<path d="M369.1 201.7h0M366.7 202.6h0" stroke="#008bfb"/>
<path d="M392.2 202.4h0" stroke="#d5008f"/>
<path d="M387.1 215.0h0M392.9 217.7h0M379.9 221.1h0" stroke="#7b4acc"/>
<path d="M377.6 218.5h0M378.0 220.3h0M369.8 219.5h0M387.2 220.6h0M373.8 219.7h0" stroke="#ff0051"/>
<path d="M411.7 219.8h0" stroke="#008bfb"/>
<path d="M385.5 217.4h0M389.1 224.1h0M383.5 222.1h0M381.9 220.1h0M376.0 219.6h0" stroke="#ff0051"/>
<path d="M381.8 218.3h0M391.4 216.7h0M383.6 216.5h0" stroke="#7b4acc"/>
<path d="M413.5 219.6h0" stroke="#008bfb"/>
<path d="M394.6 220.6h0M381.8 222.3h0" stroke="#7b4acc"/>
<path d="M385.2 219.5h0M389.3 220.2h0M391.3 222.5h0M391.3 220.4h0M389.3 218.5h0M396.7 219.4h0" stroke="#ff0051"/>
<path d="M424.0 219.5h0M408.3 219.7h0" stroke="#008bfb"/>
<path d="M389.2 214.6h0M404.0 219.4h0M379.5 219.3h0" stroke="#7b4acc"/>
<path d="M391.2 218.7h0M379.7 217.5h0M383.3 220.5h0" stroke="#ff0051"/>
<path d="M385.6 221.5h0" stroke="#7b4acc"/>
<path d="M389.5 216.5h0M392.9 219.5h0M381.7 216.4h0M387.4 222.5h0" stroke="#ff0051"/>
<path d="M415.3 219.6h0M406.0 219.2h0M410.1 219.5h0" stroke="#008bfb"/>
<path d="M402.0 219.4h0" stroke="#008bfb"/>
<path d="M387.3 224.5h0M392.9 221.2h0" stroke="#7b4acc"/>
<path d="M394.8 218.7h0M387.4 218.6h0M383.7 218.3h0M389.0 222.3h0M387.3 216.9h0" stroke="#ff0051"/>
<path d="M399.3 237.1h0M395.1 237.6h0M397.1 234.0h0M397.2 239.7h0M400.9 235.2h0" stroke="#008bfb"/>
<path d="M378.3 238.2h0M380.7 235.8h0M359.9 236.1h0M389.7 234.9h0M364.1 236.1h0M392.0 238.0h0M390.0 233.0h0M380.5 237.7h0" stroke="#ff0051"/>
<path d="M386.1 239.1h0M375.0 237.0h0M352.1 235.9h0M329.4 236.0h0M402.9 237.2h0M392.0 236.2h0M384.5 234.3h0M390.3 236.8h0M367.5 236.0h0M384.0 236.1h0M371.4 236.4h0M380.7 234.0h0" stroke="#ff0051"/>
<path d="M404.9 235.1h0" stroke="#008bfb"/>
<path d="M393.7 237.1h0M395.4 235.8h0M397.0 231.9h0M404.8 237.1h0M400.9 233.1h0" stroke="#008bfb"/>
<path d="M373.2 235.1h0M371.0 235.9h0M376.8 236.0h0M354.1 236.1h0M362.0 236.4h0M358.2 236.1h0M387.9 239.0h0" stroke="#ff0051"/>
<path d="M382.6 233.1h0M384.1 232.3h0M392.2 234.2h0M382.5 238.8h0M403.1 235.2h0M393.8 235.9h0M356.3 236.2h0M386.0 237.3h0M378.5 234.3h0M375.0 234.8h0M388.4 233.3h0M369.5 236.0h0" stroke="#ff0051"/>
<path d="M391.3 236.0h0M399.2 235.2h0M398.9 239.1h0" stroke="#008bfb"/>
<path d="M399.2 233.6h0M384.3 240.0h0M386.2 235.1h0M386.3 233.5h0M390.0 238.8h0M382.5 234.7h0M382.3 236.8h0M395.0 234.0h0M384.4 238.2h0" stroke="#ff0051"/>
<path d="M376.7 234.0h0M388.1 235.1h0M372.7 237.0h0M378.9 236.1h0M388.3 237.0h0M376.5 238.1h0M397.4 235.7h0M365.9 236.3h0" stroke="#ff0051"/>
<path d="M397.3 237.6h0M400.8 237.2h0M393.5 235.5h0M401.2 238.9h0" stroke="#008bfb"/>
<path d="M349.0 252.5h0M346.5 252.5h0" stroke="#ff0051"/>
<path d="M395.3 247.5h0M393.4 254.4h0M395.1 253.3h0M397.3 254.4h0" stroke="#d5008f"/>
<path d="M393.3 250.6h0M399.2 252.3h0" stroke="#7b4acc"/>
<path d="M396.9 256.1h0M381.6 252.2h0M398.9 250.3h0" stroke="#d5008f"/>
<path d="M405.0 252.6h0M393.6 248.6h0" stroke="#008bfb"/>
<path d="M371.9 252.5h0" stroke="#ff0051"/>
<path d="M398.8 254.2h0M395.3 251.4h0" stroke="#7b4acc"/>
<path d="M400.8 251.4h0M406.9 252.6h0" stroke="#008bfb"/>
<path d="M393.5 256.4h0M397.0 250.5h0M395.2 249.6h0" stroke="#7b4acc"/>
<path d="M376.0 252.4h0M354.6 252.6h0M377.5 252.5h0" stroke="#ff0051"/>
<path d="M385.1 252.4h0M358.6 252.5h0M370.4 252.3h0M367.9 252.8h0M364.2 252.3h0M379.4 252.2h0" stroke="#ff0051"/>
<path d="M383.7 252.7h0" stroke="#d5008f"/>
<path d="M395.5 255.0h0" stroke="#008bfb"/>
<path d="M391.2 254.4h0M391.1 250.5h0" stroke="#d5008f"/>
<path d="M393.4 252.5h0" stroke="#7b4acc"/>
<path d="M391.2 252.6h0M401.2 252.7h0M403.2 252.5h0" stroke="#008bfb"/>
<path d="M357.1 252.3h0M360.8 252.6h0" stroke="#ff0051"/>
<path d="M396.9 248.5h0M389.5 252.3h0M396.8 252.5h0" stroke="#d5008f"/>
<path d="M366.6 252.6h0M362.7 252.3h0M373.7 252.3h0" stroke="#ff0051"/>
<path d="M401.0 253.4h0M395.4 257.2h0" stroke="#7b4acc"/>
<path d="M381.1 268.7h0M377.6 269.3h0M392.6 267.1h0M388.8 270.5h0M391.0 271.9h0M383.2 271.0h0M392.9 271.2h0" stroke="#ff0051"/>
<path d="M385.4 266.1h0M385.1 268.2h0M391.1 266.3h0M389.2 268.8h0M385.2 271.8h0" stroke="#ff0051"/>
<path d="M402.1 268.9h0M387.2 267.0h0" stroke="#008bfb"/>
<path d="M394.9 269.6h0M387.0 268.8h0" stroke="#ff0051"/>
<path d="M406.1 269.0h0M390.7 268.2h0M396.2 269.4h0M389.1 267.0h0" stroke="#008bfb"/>
<path d="M412.3 269.0h0M398.5 269.1h0M403.8 268.8h0" stroke="#008bfb"/>
<path d="M383.2 269.1h0M392.8 269.1h0M379.7 270.0h0" stroke="#ff0051"/>
<path d="M390.7 270.2h0M394.8 267.9h0M385.3 269.8h0M389.1 272.5h0M375.8 269.1h0" stroke="#ff0051"/>
<path d="M383.3 267.2h0" stroke="#008bfb"/>
<path d="M387.1 270.8h0M381.3 270.8h0M381.2 266.8h0M389.2 264.9h0" stroke="#ff0051"/>
<path d="M400.5 269.1h0M379.8 268.1h0" stroke="#008bfb"/>
<path d="M378.3 286.3h0M391.6 288.3h0" stroke="#ff0051"/>
<path d="M402.1 286.2h0M404.1 285.5h0" stroke="#008bfb"/>
<path d="M376.4 285.3h0M400.6 286.4h0" stroke="#7b4acc"/>
<path d="M382.3 285.6h0" stroke="#d5008f"/>
<path d="M395.2 285.6h0" stroke="#ff0051"/>
<path d="M414.8 285.5h0M406.4 285.2h0" stroke="#008bfb"/>
<path d="M391.4 282.9h0" stroke="#d5008f"/>
<path d="M402.6 284.6h0M383.8 283.5h0" stroke="#7b4acc"/>
<path d="M408.2 285.3h0" stroke="#008bfb"/>
<path d="M396.4 284.2h0M394.7 285.4h0M398.5 286.5h0" stroke="#7b4acc"/>
<path d="M389.5 286.4h0" stroke="#d5008f"/>
<path d="M387.6 284.8h0" stroke="#ff0051"/>
<path d="M391.6 284.5h0M380.2 284.5h0" stroke="#ff0051"/>
<path d="M383.8 287.1h0M384.0 285.5h0" stroke="#7b4acc"/>
<path d="M374.2 285.5h0" stroke="#d5008f"/>
<path d="M398.4 284.9h0" stroke="#008bfb"/>
<path d="M380.1 286.4h0M378.3 284.5h0M387.8 286.5h0M393.7 284.4h0" stroke="#ff0051"/>
<path d="M393.3 286.1h0M391.4 286.7h0" stroke="#d5008f"/>
<path d="M381.9 283.6h0M396.7 286.4h0M400.6 284.4h0" stroke="#7b4acc"/>
<path d="M389.8 284.7h0M382.3 287.2h0" stroke="#ff0051"/>
<path d="M385.9 285.5h0" stroke="#d5008f"/>
<path d="M411.1 301.9h0M398.3 301.1h0" stroke="#008bfb"/>
<path d="M386.1 301.1h0M384.2 301.7h0M371.3 302.1h0M396.4 302.0h0M376.8 301.3h0M396.5 305.8h0" stroke="#ff0051"/>
<path d="M409.2 302.3h0M407.4 301.9h0M403.6 301.8h0M399.7 301.9h0" stroke="#008bfb"/>
<path d="M374.8 303.1h0M388.4 303.0h0M382.6 301.9h0" stroke="#ff0051"/>
<path d="M405.7 302.2h0M396.1 303.9h0M394.3 300.2h0" stroke="#008bfb"/>
<path d="M373.1 302.0h0M386.4 303.1h0M378.6 301.1h0M380.4 301.7h0" stroke="#ff0051"/>
<path d="M392.5 303.9h0M392.2 300.0h0" stroke="#008bfb"/>
<path d="M394.6 306.0h0M390.0 302.2h0M380.6 299.8h0M378.7 302.9h0M377.0 303.2h0" stroke="#ff0051"/>
<path d="M401.7 302.0h0" stroke="#008bfb"/>
<path d="M390.8 301.9h0M394.7 304.1h0M396.4 300.1h0" stroke="#7b4acc"/>
<path d="M375.0 301.2h0M388.6 301.0h0M380.7 303.5h0" stroke="#ff0051"/>
<path d="M396.3 298.4h0M398.5 303.1h0" stroke="#008bfb"/>
<path d="M394.4 302.2h0M382.5 304.0h0M382.4 300.2h0" stroke="#ff0051"/>
<path d="M394.2 298.1h0M392.4 301.9h0" stroke="#7b4acc"/>
<path d="M398.8 317.6h0" stroke="#d5008f"/>
<path d="M391.7 317.8h0M393.8 318.8h0M384.4 315.9h0M384.3 317.9h0" stroke="#008bfb"/>
<path d="M369.8 318.5h0" stroke="#ff0051"/>
<path d="M393.1 318.9h0M397.0 316.5h0" stroke="#7b4acc"/>
<path d="M389.9 317.4h0M388.3 319.7h0" stroke="#ff0051"/>
<path d="M387.9 317.7h0M386.0 314.9h0M351.2 318.5h0M374.9 318.4h0M372.3 318.5h0" stroke="#008bfb"/>
<path d="M397.0 320.6h0" stroke="#7b4acc"/>
<path d="M378.7 319.3h0M378.8 317.4h0M400.0 318.6h0M403.7 318.6h0" stroke="#ff0051"/>
<path d="M382.2 321.5h0M389.7 319.5h0M382.7 317.8h0" stroke="#008bfb"/>
<path d="M396.9 318.6h0" stroke="#7b4acc"/>
<path d="M401.8 318.6h0M382.3 319.7h0M405.2 318.8h0" stroke="#ff0051"/>
<path d="M385.9 322.3h0M380.4 319.4h0M384.3 319.7h0" stroke="#008bfb"/>
<path d="M398.5 319.3h0" stroke="#7b4acc"/>
<path d="M397.1 314.9h0" stroke="#d5008f"/>
<path d="M386.0 320.5h0M384.1 321.6h0M391.6 319.7h0M386.2 318.8h0M382.5 316.0h0" stroke="#008bfb"/>
<path d="M394.8 317.6h0M395.2 315.7h0" stroke="#d5008f"/>
<path d="M395.1 321.5h0M396.8 322.3h0" stroke="#7b4acc"/>
<path d="M386.1 316.7h0M377.0 318.3h0M367.3 318.5h0" stroke="#008bfb"/>
<path d="M380.4 317.4h0" stroke="#ff0051"/>
<path d="M395.0 319.4h0" stroke="#d5008f"/>
<path d="M385.8 334.1h0M387.5 334.2h0M377.7 334.8h0M383.5 335.1h0M363.4 334.8h0" stroke="#008bfb"/>
<path d="M396.9 338.8h0M395.5 337.8h0M399.3 336.1h0" stroke="#ff0051"/>
<path d="M404.8 334.9h0" stroke="#7b4acc"/>
<path d="M393.2 337.1h0" stroke="#d5008f"/>
<path d="M397.4 336.9h0M393.2 335.2h0" stroke="#7b4acc"/>
<path d="M344.0 335.0h0M391.1 335.0h0M376.3 335.2h0M385.4 336.0h0" stroke="#008bfb"/>
<path d="M395.3 335.9h0" stroke="#ff0051"/>
<path d="M393.3 333.5h0M397.1 331.1h0M399.0 338.0h0" stroke="#d5008f"/>
<path d="M397.2 335.0h0" stroke="#ff0051"/>
<path d="M346.5 335.0h0M349.0 335.0h0M389.4 334.3h0" stroke="#008bfb"/>
<path d="M395.2 334.1h0" stroke="#7b4acc"/>
<path d="M369.1 335.0h0M389.1 336.2h0M367.2 335.0h0M374.6 335.2h0M355.7 335.0h0" stroke="#008bfb"/>
<path d="M401.0 334.1h0M395.1 332.3h0M402.8 335.8h0" stroke="#ff0051"/>
<path d="M391.7 334.8h0" stroke="#ff0051"/>
<path d="M393.3 339.0h0M398.9 334.1h0M397.5 333.1h0" stroke="#d5008f"/>
<path d="M371.0 334.9h0M365.3 334.9h0M380.1 334.7h0M372.5 335.1h0" stroke="#008bfb"/>
<path d="M401.0 336.0h0M398.9 332.3h0" stroke="#7b4acc"/>
<path d="M402.9 334.0h0M393.4 331.6h0" stroke="#ff0051"/>
<path d="M381.8 335.2h0M387.3 336.1h0M378.5 335.1h0M351.5 335.0h0" stroke="#008bfb"/>
</g>
<text x="2.24" y="26.70" textLength="263.96" lengthAdjust="spacingAndGlyphs" font-family="'Liberation Serif', serif" font-size="13.4" fill="#333">Estimated Glomerular Filtration Rate (eGFR)</text>
<text x="115.45" y="43.20" textLength="150.75" lengthAdjust="spacingAndGlyphs" font-family="'Liberation Serif', serif" font-size="13.4" fill="#333">Fibrin D-Dimer (D-Dimer)</text>
<text x="125.37" y="59.70" textLength="140.83" lengthAdjust="spacingAndGlyphs" font-family="'Liberation Serif', serif" font-size="13.4" fill="#333">Leukocyte Count (WBC)</text>
<text x="143.74" y="76.20" textLength="122.46" lengthAdjust="spacingAndGlyphs" font-family="'Liberation Serif', serif" font-size="13.4" fill="#333">Bicarbonate (HCO<tspan font-size="9">3</tspan><tspan dy="-4" font-size="8.5">−</tspan><tspan dy="4">)</tspan></text>
<text x="180.00" y="92.70" textLength="86.20" lengthAdjust="spacingAndGlyphs" font-family="'Liberation Serif', serif" font-size="13.4" fill="#333">Admission Age</text>
<text x="200.22" y="109.20" textLength="65.98" lengthAdjust="spacingAndGlyphs" font-family="'Liberation Serif', serif" font-size="13.4" fill="#333">Arterial pH</text>
<text x="204.03" y="125.70" textLength="62.17" lengthAdjust="spacingAndGlyphs" font-family="'Liberation Serif', serif" font-size="13.4" fill="#333">Osmolality</text>
<text x="196.32" y="142.20" textLength="69.88" lengthAdjust="spacingAndGlyphs" font-family="'Liberation Serif', serif" font-size="13.4" fill="#333">Height (cm)</text>
<text x="163.95" y="158.70" textLength="102.25" lengthAdjust="spacingAndGlyphs" font-family="'Liberation Serif', serif" font-size="13.4" fill="#333">Neutrophil Count</text>
<text x="179.46" y="175.20" textLength="86.74" lengthAdjust="spacingAndGlyphs" font-family="'Liberation Serif', serif" font-size="13.4" fill="#333">Calcium (Ca²<tspan dy="-4" font-size="8.5">+</tspan><tspan dy="4">)</tspan></text>
<text x="88.84" y="191.70" textLength="177.36" lengthAdjust="spacingAndGlyphs" font-family="'Liberation Serif', serif" font-size="13.4" fill="#333">Basophil Percentage (%BASO)</text>
<text x="43.13" y="208.20" textLength="223.07" lengthAdjust="spacingAndGlyphs" font-family="'Liberation Serif', serif" font-size="13.4" fill="#333">Arterial Oxygen Concentration (PaO2)</text>
<text x="116.53" y="224.70" textLength="149.67" lengthAdjust="spacingAndGlyphs" font-family="'Liberation Serif', serif" font-size="13.4" fill="#333">Arterial Base Excess (BE)</text>
<text x="180.43" y="241.20" textLength="85.77" lengthAdjust="spacingAndGlyphs" font-family="'Liberation Serif', serif" font-size="13.4" fill="#333">Albumin (ALB)</text>
<text x="89.11" y="257.70" textLength="177.09" lengthAdjust="spacingAndGlyphs" font-family="'Liberation Serif', serif" font-size="13.4" fill="#333">Mean Arterial Pressure (MAP)</text>
<text x="86.24" y="274.20" textLength="179.96" lengthAdjust="spacingAndGlyphs" font-family="'Liberation Serif', serif" font-size="13.4" fill="#333">Standard Bicarbonate (HCO<tspan font-size="9">3</tspan><tspan dy="-4" font-size="8.5">−</tspan><tspan dy="4">)</tspan></text>
<text x="119.43" y="290.70" textLength="146.77" lengthAdjust="spacingAndGlyphs" font-family="'Liberation Serif', serif" font-size="13.4" fill="#333">Erythrocyte Count (RBC)</text>
<text x="162.98" y="307.20" textLength="103.22" lengthAdjust="spacingAndGlyphs" font-family="'Liberation Serif', serif" font-size="13.4" fill="#333">Total Protein (TP)</text>
<text x="170.00" y="323.70" textLength="96.20" lengthAdjust="spacingAndGlyphs" font-family="'Liberation Serif', serif" font-size="13.4" fill="#333">Monocyte Count</text>
<text x="141.36" y="340.20" textLength="124.84" lengthAdjust="spacingAndGlyphs" font-family="'Liberation Serif', serif" font-size="13.4" fill="#333">Plasma Glucose (Glu)</text>
<line x1="286.8" x2="448" y1="351.6" y2="351.6" stroke="#333" stroke-width="1"/>
<line x1="332.5" x2="332.5" y1="351.6" y2="354.6" stroke="#333" stroke-width="1"/>
<text x="323.15" y="365.5" textLength="18.70" lengthAdjust="spacingAndGlyphs" font-family="'Liberation Serif', serif" font-size="10.9" fill="#333">-0.1</text>
<line x1="394.8" x2="394.8" y1="351.6" y2="354.6" stroke="#333" stroke-width="1"/>
<text x="387.09" y="365.5" textLength="15.43" lengthAdjust="spacingAndGlyphs" font-family="'Liberation Serif', serif" font-size="10.9" fill="#333">0.0</text>
<text x="256.97" y="380" textLength="220.66" lengthAdjust="spacingAndGlyphs" font-family="'Liberation Serif', serif" font-size="12.9" fill="#333">SHAP value (impact on model output)</text>
<rect x="457.9" y="5.5" width="4.2" height="346.2" fill="url(#cbar)"/>
<text x="465.29999999999995" y="9.3" textLength="24.02" lengthAdjust="spacingAndGlyphs" font-family="'Liberation Serif', serif" font-size="10.9" fill="#333">High</text>
<text x="465.29999999999995" y="355.6" textLength="20.58" lengthAdjust="spacingAndGlyphs" font-family="'Liberation Serif', serif" font-size="10.9" fill="#333">Low</text>
<text transform="translate(496.8,178) rotate(-90)" x="-36.98" y="0" textLength="73.96" lengthAdjust="spacingAndGlyphs" font-family="'Liberation Serif', serif" font-size="11.9" fill="#333">Feature value</text>
<line x1="840.3" x2="1001.5" y1="21.5" y2="21.5" stroke="#f6f6f6" stroke-width="1"/>
<line x1="840.3" x2="1001.5" y1="38.0" y2="38.0" stroke="#f6f6f6" stroke-width="1"/>
<line x1="840.3" x2="1001.5" y1="54.5" y2="54.5" stroke="#f6f6f6" stroke-width="1"/>
<line x1="840.3" x2="1001.5" y1="71.0" y2="71.0" stroke="#f6f6f6" stroke-width="1"/>
<line x1="840.3" x2="1001.5" y1="87.5" y2="87.5" stroke="#f6f6f6" stroke-width="1"/>
<line x1="840.3" x2="1001.5" y1="104.0" y2="104.0" stroke="#f6f6f6" stroke-width="1"/>
<line x1="840.3" x2="1001.5" y1="120.5" y2="120.5" stroke="#f6f6f6" stroke-width="1"/>
<line x1="840.3" x2="1001.5" y1="137.0" y2="137.0" stroke="#f6f6f6" stroke-width="1"/>
<line x1="840.3" x2="1001.5" y1="153.5" y2="153.5" stroke="#f6f6f6" stroke-width="1"/>
<line x1="840.3" x2="1001.5" y1="170.0" y2="170.0" stroke="#f6f6f6" stroke-width="1"/>
<line x1="840.3" x2="1001.5" y1="186.5" y2="186.5" stroke="#f6f6f6" stroke-width="1"/>
<line x1="840.3" x2="1001.5" y1="203.0" y2="203.0" stroke="#f6f6f6" stroke-width="1"/>
<line x1="840.3" x2="1001.5" y1="219.5" y2="219.5" stroke="#f6f6f6" stroke-width="1"/>
<line x1="840.3" x2="1001.5" y1="236.0" y2="236.0" stroke="#f6f6f6" stroke-width="1"/>
<line x1="840.3" x2="1001.5" y1="252.5" y2="252.5" stroke="#f6f6f6" stroke-width="1"/>
<line x1="840.3" x2="1001.5" y1="269.0" y2="269.0" stroke="#f6f6f6" stroke-width="1"/>
<line x1="840.3" x2="1001.5" y1="285.5" y2="285.5" stroke="#f6f6f6" stroke-width="1"/>
<line x1="840.3" x2="1001.5" y1="302.0" y2="302.0" stroke="#f6f6f6" stroke-width="1"/>
<line x1="840.3" x2="1001.5" y1="318.5" y2="318.5" stroke="#f6f6f6" stroke-width="1"/>
<line x1="840.3" x2="1001.5" y1="335.0" y2="335.0" stroke="#f6f6f6" stroke-width="1"/>
<line x1="924" x2="924" y1="5.5" y2="351.5" stroke="#999" stroke-width="1.4"/>
<g fill="none" stroke-width="3.5" stroke-linecap="round">
<path d="M861.2 19.5h0M867.1 18.8h0M946.1 22.6h0M951.2 20.4h0M936.2 20.0h0M953.1 20.5h0M883.9 21.4h0M947.9 21.3h0M949.5 20.5h0" stroke="#7b4acc"/>
<path d="M878.5 20.4h0M871.1 21.3h0M871.1 19.4h0M859.6 22.7h0M892.0 24.0h0M854.0 22.5h0M861.5 23.4h0M886.4 22.5h0M891.6 22.2h0M880.4 18.4h0M859.5 20.5h0" stroke="#ff0051"/>
<path d="M964.7 22.4h0" stroke="#555fe0"/>
<path d="M884.1 25.0h0M865.4 18.4h0M861.6 21.5h0M874.6 23.2h0" stroke="#d5008f"/>
<path d="M966.8 20.8h0M940.5 25.3h0M931.8 21.3h0M944.0 19.6h0M940.0 17.7h0" stroke="#008bfb"/>
<path d="M871.0 25.1h0M863.4 21.6h0M959.5 20.4h0M945.5 22.4h0M867.2 22.6h0M955.1 22.5h0M949.6 22.6h0M944.1 23.6h0M949.4 18.7h0" stroke="#7b4acc"/>
<path d="M948.1 19.6h0M961.0 22.3h0M945.9 20.6h0M938.0 23.7h0" stroke="#555fe0"/>
<path d="M953.4 20.7h0M930.1 21.3h0M962.5 22.3h0M913.2 21.5h0M947.7 23.1h0M951.6 23.3h0M938.1 18.0h0M942.1 22.3h0M920.6 21.4h0M953.7 24.4h0M964.6 20.8h0M922.7 21.8h0" stroke="#008bfb"/>
<path d="M880.7 26.2h0M855.6 22.3h0M867.4 24.6h0M851.3 21.5h0" stroke="#ff0051"/>
<path d="M888.0 22.2h0" stroke="#d5008f"/>
<path d="M928.0 21.5h0M941.8 20.3h0M951.4 21.7h0M947.6 20.4h0M945.8 18.8h0M918.6 21.6h0M949.4 20.9h0" stroke="#008bfb"/>
<path d="M865.0 20.5h0M886.3 24.2h0M890.2 23.2h0M880.4 24.2h0M876.4 24.5h0M882.5 25.0h0M876.9 18.7h0M871.0 17.5h0M876.4 22.7h0M868.8 21.6h0" stroke="#ff0051"/>
<path d="M944.0 22.6h0M944.2 25.3h0M938.6 21.8h0M963.0 20.5h0" stroke="#555fe0"/>
<path d="M878.2 22.2h0M944.1 17.8h0M946.2 20.8h0M939.8 20.5h0M925.9 21.5h0M943.8 21.5h0M853.8 20.5h0" stroke="#7b4acc"/>
<path d="M880.5 20.7h0M857.5 22.6h0" stroke="#d5008f"/>
<path d="M882.0 17.7h0M887.8 23.9h0M891.9 20.5h0M893.5 22.5h0M880.6 22.4h0M878.5 24.2h0M876.6 20.7h0M873.0 19.6h0M883.9 19.3h0M899.2 21.2h0M867.3 20.7h0M874.5 21.3h0M897.4 21.2h0" stroke="#ff0051"/>
<path d="M942.0 21.2h0M933.5 21.2h0M872.5 21.5h0M890.1 19.3h0M965.0 21.3h0" stroke="#7b4acc"/>
<path d="M924.5 21.6h0M942.0 19.4h0M953.3 18.7h0M962.5 20.7h0M940.4 23.5h0M955.2 20.3h0" stroke="#008bfb"/>
<path d="M953.2 22.5h0M938.4 19.9h0M966.8 22.7h0M958.8 22.4h0" stroke="#555fe0"/>
<path d="M904.9 21.5h0M878.3 18.5h0" stroke="#d5008f"/>
<path d="M955.5 22.4h0M956.9 22.1h0M940.2 19.7h0M951.6 22.4h0M882.6 21.4h0M966.6 21.1h0M960.8 22.5h0M949.9 24.6h0M882.5 23.4h0M886.1 20.5h0M945.8 24.7h0M942.4 24.9h0" stroke="#7b4acc"/>
<path d="M959.0 20.4h0M957.3 20.2h0M955.1 20.6h0M936.6 21.7h0M943.8 20.6h0" stroke="#555fe0"/>
<path d="M917.1 21.3h0M968.8 21.5h0M957.2 22.2h0M959.4 22.3h0M911.4 21.7h0" stroke="#008bfb"/>
<path d="M884.4 23.2h0M857.7 20.6h0M847.1 21.5h0M884.3 17.6h0M872.5 23.2h0" stroke="#ff0051"/>
<path d="M895.6 20.6h0M895.4 22.4h0M891.6 18.6h0" stroke="#d5008f"/>
<path d="M951.7 19.5h0M953.4 22.6h0M939.9 22.3h0M949.4 22.7h0M942.0 23.0h0M957.1 20.5h0M915.0 21.4h0M938.3 25.5h0M961.3 20.4h0M963.0 22.6h0" stroke="#008bfb"/>
<path d="M887.9 20.4h0M864.9 24.2h0M880.3 16.5h0M885.9 18.4h0M893.9 20.6h0M889.8 21.4h0M865.4 22.3h0M874.5 19.4h0" stroke="#ff0051"/>
<path d="M942.4 17.4h0M970.8 21.4h0M936.2 23.6h0M947.9 22.2h0" stroke="#7b4acc"/>
<path d="M940.1 21.6h0M960.7 20.4h0M934.6 21.1h0" stroke="#555fe0"/>
<path d="M855.6 20.7h0M888.0 18.6h0M882.1 19.6h0M871.0 23.4h0" stroke="#d5008f"/>
<path d="M899.9 37.3h0" stroke="#7b4acc"/>
<path d="M888.7 38.8h0M898.3 36.3h0M896.0 37.0h0M875.4 38.0h0M909.7 38.0h0M904.1 39.9h0M907.3 39.2h0M894.3 36.9h0M900.0 35.1h0M888.4 37.0h0" stroke="#008bfb"/>
<path d="M943.6 39.1h0M941.9 36.7h0M934.6 38.9h0M961.1 38.0h0M945.8 38.9h0M965.0 38.2h0M958.8 38.8h0M968.6 38.0h0" stroke="#ff0051"/>
<path d="M878.9 38.3h0M903.7 36.0h0M898.1 34.4h0M897.7 38.3h0M896.0 42.8h0M890.5 39.5h0M903.9 37.9h0M898.1 41.9h0" stroke="#008bfb"/>
<path d="M934.2 37.1h0M966.8 38.0h0M943.8 37.1h0M928.6 38.1h0M932.3 37.2h0M936.2 39.0h0M979.4 38.0h0M984.4 38.0h0M951.3 39.3h0" stroke="#ff0051"/>
<path d="M907.7 37.2h0" stroke="#7b4acc"/>
<path d="M903.9 39.8h0" stroke="#d5008f"/>
<path d="M886.4 37.2h0M896.3 40.8h0" stroke="#555fe0"/>
<path d="M898.0 39.9h0M903.9 38.3h0M899.7 39.2h0" stroke="#7b4acc"/>
<path d="M949.4 36.9h0M930.5 36.7h0M945.5 37.2h0M993.5 38.0h0M955.3 39.0h0" stroke="#ff0051"/>
<path d="M901.8 37.1h0M905.8 38.9h0" stroke="#d5008f"/>
<path d="M901.6 40.8h0M900.2 38.8h0M898.3 38.1h0M894.1 40.8h0M901.9 38.9h0M890.3 37.7h0M884.6 38.2h0" stroke="#008bfb"/>
<path d="M907.3 39.0h0M886.7 39.1h0M892.2 34.9h0M905.9 38.9h0M896.2 39.1h0M880.4 37.9h0M900.0 36.8h0M894.4 38.9h0M882.7 38.2h0" stroke="#008bfb"/>
<path d="M936.2 37.1h0M955.1 37.2h0M932.6 39.2h0M942.2 38.7h0M938.3 39.0h0M974.5 37.9h0M951.7 37.4h0" stroke="#ff0051"/>
<path d="M903.8 36.2h0" stroke="#d5008f"/>
<path d="M901.6 38.9h0" stroke="#7b4acc"/>
<path d="M900.3 40.8h0M892.3 37.1h0M888.4 40.9h0M892.5 40.7h0M902.2 37.1h0M901.7 35.2h0" stroke="#008bfb"/>
<path d="M894.4 34.8h0M896.2 35.3h0" stroke="#7b4acc"/>
<path d="M923.7 38.0h0M957.4 38.8h0M949.7 38.8h0M940.2 37.0h0M917.8 38.0h0M962.6 38.0h0" stroke="#ff0051"/>
<path d="M888.7 34.9h0M907.5 37.0h0" stroke="#555fe0"/>
<path d="M905.5 37.1h0M912.5 38.0h0" stroke="#d5008f"/>
<path d="M957.0 37.0h0M947.5 39.1h0M970.6 38.2h0M958.9 37.2h0M938.2 37.2h0M953.6 36.9h0M972.2 38.3h0M939.9 38.9h0M981.5 38.0h0M930.8 38.7h0M947.5 37.2h0M953.2 38.8h0" stroke="#ff0051"/>
<path d="M890.4 36.0h0M882.8 38.2h0M896.3 33.2h0M905.5 37.2h0" stroke="#008bfb"/>
<path d="M892.7 39.0h0" stroke="#555fe0"/>
<path d="M909.3 38.3h0" stroke="#7b4acc"/>
<path d="M881.5 54.5h0M898.6 54.2h0M892.9 54.4h0M900.7 54.8h0M889.2 54.5h0" stroke="#008bfb"/>
<path d="M929.1 55.3h0M902.6 54.4h0M922.6 54.2h0" stroke="#7b4acc"/>
<path d="M890.7 54.6h0" stroke="#555fe0"/>
<path d="M930.7 58.4h0M929.1 49.7h0" stroke="#d5008f"/>
<path d="M934.8 52.8h0M929.0 51.6h0M931.2 54.7h0M913.1 54.6h0" stroke="#7b4acc"/>
<path d="M877.5 54.5h0M910.1 54.3h0M885.2 54.8h0" stroke="#555fe0"/>
<path d="M927.5 53.4h0M934.7 56.6h0M928.9 53.3h0" stroke="#d5008f"/>
<path d="M896.7 54.6h0" stroke="#008bfb"/>
<path d="M932.9 58.3h0M927.1 51.6h0M934.5 54.5h0M915.1 54.2h0" stroke="#7b4acc"/>
<path d="M896.4 54.3h0M906.2 54.2h0" stroke="#555fe0"/>
<path d="M930.9 52.5h0M925.4 54.2h0" stroke="#d5008f"/>
<path d="M853.3 54.5h0M883.4 54.4h0" stroke="#008bfb"/>
<path d="M918.6 54.5h0M932.7 54.5h0M911.4 54.4h0M930.7 56.3h0" stroke="#d5008f"/>
<path d="M894.9 54.3h0M898.3 54.5h0M875.8 54.1h0" stroke="#555fe0"/>
<path d="M894.8 54.3h0" stroke="#008bfb"/>
<path d="M927.1 57.4h0M936.7 53.2h0" stroke="#7b4acc"/>
<path d="M936.9 55.4h0M916.7 54.6h0M938.5 54.4h0M929.1 57.4h0" stroke="#d5008f"/>
<path d="M926.9 55.5h0M908.2 54.1h0M931.2 50.6h0" stroke="#7b4acc"/>
<path d="M886.8 54.1h0M867.9 54.5h0M870.1 54.5h0" stroke="#008bfb"/>
<path d="M928.9 59.0h0" stroke="#d5008f"/>
<path d="M904.6 54.5h0M871.5 54.4h0" stroke="#555fe0"/>
<path d="M873.9 54.6h0M879.5 54.2h0" stroke="#008bfb"/>
<path d="M932.7 52.5h0M932.7 50.7h0M933.1 56.4h0M920.8 54.7h0" stroke="#7b4acc"/>
<path d="M939.5 54.5h0" stroke="#ff0051"/>
<path d="M936.8 69.1h0M921.6 71.0h0M923.0 71.8h0M930.6 69.1h0M936.7 71.1h0" stroke="#ff0051"/>
<path d="M938.3 72.0h0M910.4 70.8h0M895.2 67.6h0M900.7 73.9h0M899.3 68.8h0M902.9 73.9h0M872.5 71.0h0M900.8 72.1h0M881.7 70.2h0M899.1 72.8h0" stroke="#008bfb"/>
<path d="M930.9 67.3h0" stroke="#7b4acc"/>
<path d="M934.6 68.1h0M928.8 73.5h0" stroke="#ff0051"/>
<path d="M906.5 70.2h0M903.0 70.1h0M889.7 73.1h0M876.3 71.0h0M908.8 72.2h0M887.6 72.0h0M880.2 70.8h0M887.7 70.0h0M895.2 73.2h0M868.8 71.0h0M925.5 70.2h0M906.7 72.1h0" stroke="#008bfb"/>
<path d="M927.1 71.3h0M925.3 68.3h0" stroke="#7b4acc"/>
<path d="M876.1 70.8h0M895.5 75.1h0M883.6 70.3h0M902.9 71.8h0M923.4 71.0h0M898.8 74.8h0M919.4 70.9h0M927.3 69.2h0M897.5 74.9h0M905.1 71.3h0M912.9 71.0h0M893.1 69.7h0" stroke="#008bfb"/>
<path d="M936.3 72.9h0M934.4 72.2h0M938.3 70.4h0" stroke="#ff0051"/>
<path d="M925.1 74.1h0" stroke="#7b4acc"/>
<path d="M889.8 71.1h0M891.5 74.0h0M895.2 69.1h0M891.5 72.2h0M895.1 71.2h0M897.2 67.2h0M901.3 68.2h0M903.2 68.1h0M897.4 69.2h0M908.3 70.3h0M884.0 72.1h0" stroke="#008bfb"/>
<path d="M940.1 71.0h0M929.0 71.6h0M934.5 73.9h0M934.8 70.2h0" stroke="#ff0051"/>
<path d="M929.3 67.8h0" stroke="#7b4acc"/>
<path d="M899.3 71.0h0M891.4 70.2h0M897.0 73.0h0M893.6 71.9h0M932.5 73.8h0M899.1 67.0h0M891.3 68.5h0M930.8 71.2h0M878.2 71.1h0M932.5 68.1h0" stroke="#008bfb"/>
<path d="M927.3 73.3h0M930.9 74.9h0M931.2 73.0h0M932.8 71.7h0" stroke="#ff0051"/>
<path d="M897.4 71.0h0M885.8 71.9h0M885.9 69.8h0M925.0 72.1h0M921.3 71.0h0M901.0 70.0h0M881.8 71.9h0M864.3 71.0h0M912.7 71.0h0M925.2 70.9h0M889.4 69.4h0" stroke="#008bfb"/>
<path d="M932.8 70.1h0M919.6 70.7h0M923.4 70.1h0" stroke="#7b4acc"/>
<path d="M929.1 69.9h0" stroke="#ff0051"/>
<path d="M925.2 88.6h0M930.8 89.1h0M932.5 86.6h0M925.4 86.8h0M923.0 87.4h0M928.9 90.2h0" stroke="#008bfb"/>
<path d="M881.1 87.2h0M906.4 87.2h0M888.3 87.6h0M893.0 87.5h0M909.8 86.3h0M902.2 84.8h0" stroke="#ff0051"/>
<path d="M940.3 87.6h0M957.1 87.4h0" stroke="#d5008f"/>
<path d="M948.0 87.5h0" stroke="#7b4acc"/>
<path d="M925.4 90.3h0M900.6 88.3h0M912.1 85.8h0M915.7 86.6h0M904.6 84.8h0M904.6 86.5h0M908.0 88.8h0M910.1 84.6h0M877.4 87.4h0" stroke="#ff0051"/>
<path d="M932.7 88.4h0M929.2 86.6h0M923.2 85.9h0M921.3 86.5h0M921.7 88.3h0" stroke="#008bfb"/>
<path d="M938.5 87.6h0" stroke="#7b4acc"/>
<path d="M913.9 89.2h0M882.9 87.5h0M902.3 90.3h0M906.0 89.4h0M894.8 86.5h0M896.8 88.5h0M898.5 88.3h0" stroke="#ff0051"/>
<path d="M946.1 87.6h0M934.2 87.7h0M944.0 87.3h0" stroke="#d5008f"/>
<path d="M936.5 87.6h0M955.6 87.5h0M941.9 87.5h0" stroke="#7b4acc"/>
<path d="M929.3 88.3h0" stroke="#008bfb"/>
<path d="M909.7 88.4h0M896.5 86.8h0M900.3 86.6h0M914.0 87.3h0M884.6 87.5h0M904.1 90.4h0M902.3 88.4h0M917.3 88.6h0M917.6 86.7h0M930.8 85.4h0" stroke="#ff0051"/>
<path d="M953.7 87.4h0M951.7 87.6h0M949.7 87.5h0" stroke="#d5008f"/>
<path d="M925.4 84.8h0" stroke="#008bfb"/>
<path d="M892.6 87.5h0M919.4 87.4h0M895.0 88.5h0M912.0 89.6h0M912.1 87.6h0M904.3 88.6h0M908.1 90.6h0M930.7 87.2h0M910.2 90.1h0M886.3 87.6h0M906.2 85.6h0" stroke="#ff0051"/>
<path d="M923.0 89.4h0M927.3 89.3h0M927.1 83.4h0" stroke="#008bfb"/>
<path d="M928.9 84.8h0M927.1 91.2h0M919.7 87.2h0M926.9 85.4h0M927.2 87.2h0" stroke="#008bfb"/>
<path d="M898.8 86.5h0M908.3 86.6h0M915.5 88.5h0M907.9 84.8h0M913.6 85.5h0M879.2 87.4h0M890.4 87.2h0M902.6 86.4h0" stroke="#ff0051"/>
<path d="M958.1 87.5h0" stroke="#d5008f"/>
<path d="M910.4 103.3h0" stroke="#7b4acc"/>
<path d="M924.7 102.0h0M896.2 103.8h0M862.6 104.0h0M886.6 103.7h0M924.6 107.6h0" stroke="#008bfb"/>
<path d="M921.7 102.9h0M916.4 105.7h0" stroke="#d5008f"/>
<path d="M919.9 104.6h0M912.7 104.9h0" stroke="#ff0051"/>
<path d="M916.4 101.9h0M906.6 105.9h0" stroke="#7b4acc"/>
<path d="M928.8 102.8h0M872.9 104.0h0M961.1 104.0h0M868.8 104.0h0M902.1 104.0h0M926.5 103.1h0M894.4 104.1h0" stroke="#008bfb"/>
<path d="M919.8 102.7h0" stroke="#d5008f"/>
<path d="M910.3 101.2h0M921.7 104.9h0M912.6 106.7h0" stroke="#7b4acc"/>
<path d="M926.8 101.1h0M926.5 107.0h0M885.2 104.0h0M930.5 102.9h0" stroke="#008bfb"/>
<path d="M905.0 102.9h0M912.6 102.8h0M910.3 104.9h0" stroke="#ff0051"/>
<path d="M914.3 102.9h0M903.0 103.7h0" stroke="#7b4acc"/>
<path d="M876.3 104.0h0M888.5 104.0h0M890.5 104.1h0M924.8 104.1h0M928.5 104.9h0M930.1 104.6h0M923.0 104.2h0" stroke="#008bfb"/>
<path d="M916.4 103.8h0" stroke="#ff0051"/>
<path d="M924.9 100.4h0M883.2 104.2h0M892.5 103.8h0M924.6 106.0h0M881.1 103.8h0M898.5 104.0h0" stroke="#008bfb"/>
<path d="M918.2 102.9h0" stroke="#d5008f"/>
<path d="M938.6 104.0h0M912.2 101.0h0M914.4 104.6h0" stroke="#7b4acc"/>
<path d="M906.9 102.2h0M906.5 104.3h0M904.6 104.9h0M934.5 104.0h0M918.1 105.0h0" stroke="#7b4acc"/>
<path d="M910.7 107.1h0M908.4 105.2h0M908.7 103.1h0" stroke="#d5008f"/>
<path d="M926.4 104.8h0M899.9 103.9h0" stroke="#008bfb"/>
<path d="M897.4 119.4h0M895.4 119.5h0M903.2 121.5h0M907.3 121.3h0" stroke="#ff0051"/>
<path d="M927.2 120.7h0M931.2 116.8h0M940.6 119.6h0M894.0 121.4h0M933.0 119.5h0M943.0 120.6h0" stroke="#d5008f"/>
<path d="M914.6 121.3h0M924.0 119.7h0M916.3 119.4h0" stroke="#008bfb"/>
<path d="M920.3 121.5h0M918.4 121.3h0M933.0 123.3h0" stroke="#008bfb"/>
<path d="M937.0 121.4h0M923.7 121.7h0M931.5 120.6h0" stroke="#7b4acc"/>
<path d="M892.1 121.6h0M901.0 121.4h0M873.8 120.5h0M899.1 119.6h0M880.4 120.4h0" stroke="#ff0051"/>
<path d="M929.2 121.2h0M927.5 116.6h0" stroke="#d5008f"/>
<path d="M882.6 120.5h0M925.7 119.5h0" stroke="#d5008f"/>
<path d="M893.8 119.6h0M885.9 120.4h0M895.4 121.4h0M910.5 119.5h0M909.0 119.5h0M889.9 119.2h0M908.9 121.3h0" stroke="#ff0051"/>
<path d="M925.9 123.3h0M943.6 120.5h0M935.2 120.3h0" stroke="#7b4acc"/>
<path d="M914.8 119.5h0" stroke="#008bfb"/>
<path d="M938.8 121.5h0M929.6 119.6h0M916.4 121.1h0" stroke="#008bfb"/>
<path d="M906.8 119.3h0M925.6 117.6h0M911.1 121.6h0M883.9 120.3h0M890.1 121.1h0" stroke="#d5008f"/>
<path d="M927.5 122.4h0" stroke="#7b4acc"/>
<path d="M899.5 121.2h0M913.0 119.8h0M904.9 121.1h0" stroke="#ff0051"/>
<path d="M897.4 121.3h0M901.5 119.4h0M912.6 121.6h0M892.0 119.8h0" stroke="#ff0051"/>
<path d="M918.2 119.5h0M941.0 121.2h0M939.0 119.4h0" stroke="#008bfb"/>
<path d="M927.5 118.6h0M933.5 117.6h0M927.7 124.4h0M888.1 119.6h0" stroke="#d5008f"/>
<path d="M931.2 118.7h0" stroke="#7b4acc"/>
<path d="M925.8 121.5h0M933.3 121.4h0" stroke="#d5008f"/>
<path d="M937.3 119.3h0M931.2 124.5h0" stroke="#7b4acc"/>
<path d="M870.4 120.5h0M903.2 119.4h0M888.2 121.5h0M905.2 119.2h0" stroke="#ff0051"/>
<path d="M920.4 119.6h0M921.8 121.2h0M931.4 122.3h0M922.3 119.4h0" stroke="#008bfb"/>
<path d="M921.4 137.9h0M915.7 137.1h0M908.0 136.2h0M917.5 135.2h0" stroke="#ff0051"/>
<path d="M906.4 137.2h0M978.6 137.0h0M909.8 136.8h0M929.4 137.0h0" stroke="#008bfb"/>
<path d="M941.5 137.0h0M945.6 137.0h0M915.4 140.8h0M933.4 137.0h0" stroke="#008bfb"/>
<path d="M917.8 137.0h0M912.1 138.0h0M914.0 139.2h0" stroke="#ff0051"/>
<path d="M910.0 138.8h0M913.8 135.2h0" stroke="#008bfb"/>
<path d="M917.7 139.0h0M915.9 135.4h0M911.9 134.1h0M915.9 139.2h0M910.2 134.8h0" stroke="#ff0051"/>
<path d="M957.8 137.0h0M949.7 137.0h0" stroke="#008bfb"/>
<path d="M912.2 140.0h0M907.8 138.1h0M921.4 136.0h0M898.6 137.0h0M913.7 137.1h0" stroke="#ff0051"/>
<path d="M904.3 136.7h0M902.8 137.0h0M912.1 136.0h0" stroke="#ff0051"/>
<path d="M913.6 141.0h0M937.5 137.0h0M972.7 137.0h0M913.8 133.5h0" stroke="#008bfb"/>
<path d="M953.7 137.0h0M964.4 137.0h0M919.7 135.7h0M915.7 133.2h0M925.3 137.0h0" stroke="#008bfb"/>
<path d="M900.7 136.9h0M919.3 137.7h0" stroke="#ff0051"/>
<path d="M940.2 153.8h0" stroke="#008bfb"/>
<path d="M909.9 152.8h0M915.8 155.4h0M914.0 156.4h0" stroke="#ff0051"/>
<path d="M922.6 153.2h0M907.9 151.0h0M938.2 154.2h0" stroke="#7b4acc"/>
<path d="M928.8 152.4h0M930.2 150.8h0" stroke="#555fe0"/>
<path d="M904.3 151.7h0" stroke="#d5008f"/>
<path d="M921.8 154.3h0M917.8 151.5h0M913.9 152.7h0M930.2 156.3h0M900.8 153.9h0" stroke="#7b4acc"/>
<path d="M924.7 154.5h0M926.3 152.6h0" stroke="#008bfb"/>
<path d="M902.4 152.6h0M913.9 150.8h0M921.6 152.7h0" stroke="#ff0051"/>
<path d="M911.9 157.2h0M904.3 153.5h0M906.2 155.1h0M917.6 155.4h0M912.0 153.5h0" stroke="#ff0051"/>
<path d="M930.2 152.6h0M935.8 154.5h0" stroke="#008bfb"/>
<path d="M904.4 155.5h0M926.9 154.6h0" stroke="#7b4acc"/>
<path d="M938.1 152.5h0" stroke="#008bfb"/>
<path d="M924.6 152.7h0M934.0 152.5h0" stroke="#555fe0"/>
<path d="M902.4 154.7h0M908.5 154.8h0" stroke="#d5008f"/>
<path d="M912.1 155.6h0M932.6 153.4h0M915.6 153.3h0" stroke="#7b4acc"/>
<path d="M918.0 153.6h0" stroke="#ff0051"/>
<path d="M909.8 151.0h0M910.3 154.7h0M910.2 156.6h0M915.8 151.4h0M919.4 154.5h0" stroke="#ff0051"/>
<path d="M911.8 149.7h0" stroke="#d5008f"/>
<path d="M898.8 153.4h0M908.2 152.8h0" stroke="#7b4acc"/>
<path d="M930.4 154.6h0" stroke="#555fe0"/>
<path d="M936.4 152.5h0" stroke="#555fe0"/>
<path d="M928.8 154.1h0" stroke="#7b4acc"/>
<path d="M906.1 153.2h0M919.3 152.6h0M906.4 151.2h0" stroke="#ff0051"/>
<path d="M934.1 154.4h0" stroke="#008bfb"/>
<path d="M908.2 156.7h0M912.3 151.9h0M913.8 154.6h0" stroke="#d5008f"/>
<path d="M892.7 169.9h0M878.0 170.0h0M869.0 170.0h0" stroke="#ff0051"/>
<path d="M922.5 171.8h0M914.5 170.0h0M926.0 165.5h0M920.5 170.2h0" stroke="#008bfb"/>
<path d="M898.4 169.7h0" stroke="#d5008f"/>
<path d="M926.4 173.0h0" stroke="#7b4acc"/>
<path d="M918.5 170.0h0M935.7 169.8h0" stroke="#7b4acc"/>
<path d="M932.2 169.2h0M922.3 167.8h0M928.4 168.3h0M927.9 166.3h0" stroke="#d5008f"/>
<path d="M934.1 171.1h0" stroke="#008bfb"/>
<path d="M881.0 170.0h0M882.9 170.3h0" stroke="#ff0051"/>
<path d="M900.2 170.3h0" stroke="#ff0051"/>
<path d="M916.8 171.0h0M931.8 173.1h0" stroke="#008bfb"/>
<path d="M924.4 170.1h0M932.0 167.3h0M926.3 171.0h0M920.7 168.4h0M928.3 172.1h0" stroke="#7b4acc"/>
<path d="M890.5 170.3h0" stroke="#d5008f"/>
<path d="M894.4 170.1h0M924.2 168.3h0M934.1 169.4h0M896.4 170.0h0" stroke="#d5008f"/>
<path d="M888.5 170.0h0" stroke="#ff0051"/>
<path d="M929.8 172.1h0M931.8 171.1h0M928.3 174.1h0" stroke="#7b4acc"/>
<path d="M926.2 175.0h0" stroke="#008bfb"/>
<path d="M926.3 169.1h0M927.9 170.2h0M920.7 171.9h0" stroke="#7b4acc"/>
<path d="M913.2 169.9h0M918.6 171.8h0" stroke="#008bfb"/>
<path d="M926.1 167.4h0M916.8 169.1h0" stroke="#d5008f"/>
<path d="M886.7 170.0h0M903.9 169.7h0" stroke="#ff0051"/>
<path d="M901.9 170.1h0M929.9 168.3h0M930.0 169.9h0M918.8 167.9h0M865.4 170.0h0" stroke="#d5008f"/>
<path d="M924.0 171.8h0" stroke="#008bfb"/>
<path d="M873.0 170.0h0M884.8 170.3h0" stroke="#ff0051"/>
<path d="M922.7 170.0h0" stroke="#7b4acc"/>
<path d="M909.6 187.3h0M919.2 185.6h0M883.3 185.4h0M902.2 185.1h0M900.2 187.1h0M887.2 185.3h0" stroke="#008bfb"/>
<path d="M928.6 188.2h0M925.2 187.2h0" stroke="#d5008f"/>
<path d="M925.0 183.7h0M886.8 187.3h0" stroke="#7b4acc"/>
<path d="M933.0 186.4h0" stroke="#ff0051"/>
<path d="M898.5 187.4h0M898.2 185.4h0M890.8 187.3h0" stroke="#555fe0"/>
<path d="M913.5 187.6h0M881.2 185.3h0M915.7 187.5h0M907.9 185.4h0" stroke="#008bfb"/>
<path d="M935.1 186.3h0" stroke="#ff0051"/>
<path d="M928.9 186.5h0M921.1 186.5h0" stroke="#d5008f"/>
<path d="M902.1 187.0h0" stroke="#7b4acc"/>
<path d="M904.2 187.8h0M890.7 185.4h0" stroke="#555fe0"/>
<path d="M896.1 187.5h0M919.2 187.3h0M917.4 185.7h0M888.8 187.3h0" stroke="#008bfb"/>
<path d="M882.9 187.3h0M924.8 181.5h0" stroke="#7b4acc"/>
<path d="M928.9 184.5h0M925.3 185.4h0M926.7 186.7h0" stroke="#d5008f"/>
<path d="M911.6 187.5h0M896.3 185.6h0" stroke="#7b4acc"/>
<path d="M900.3 185.5h0M881.2 187.4h0M915.3 185.4h0M905.7 185.3h0M921.0 185.8h0" stroke="#008bfb"/>
<path d="M892.7 187.6h0M903.7 185.7h0" stroke="#555fe0"/>
<path d="M923.0 188.5h0M923.3 184.6h0" stroke="#d5008f"/>
<path d="M931.0 186.7h0" stroke="#ff0051"/>
<path d="M917.4 187.4h0M911.9 185.8h0M892.3 185.7h0M894.8 185.7h0M913.6 185.7h0M885.2 185.7h0" stroke="#008bfb"/>
<path d="M888.7 185.3h0" stroke="#555fe0"/>
<path d="M909.6 185.4h0" stroke="#7b4acc"/>
<path d="M924.8 191.2h0M926.8 184.7h0" stroke="#d5008f"/>
<path d="M884.9 187.8h0M905.8 187.3h0M907.9 187.1h0" stroke="#008bfb"/>
<path d="M926.8 188.7h0M925.1 189.3h0" stroke="#d5008f"/>
<path d="M938.7 186.5h0M937.0 186.2h0" stroke="#ff0051"/>
<path d="M921.2 187.8h0" stroke="#555fe0"/>
<path d="M894.5 187.5h0M930.7 186.5h0M923.4 186.5h0" stroke="#7b4acc"/>
<path d="M910.2 202.9h0M920.7 201.2h0M918.8 202.0h0M915.1 204.1h0" stroke="#008bfb"/>
<path d="M934.9 203.8h0" stroke="#7b4acc"/>
<path d="M936.8 203.9h0" stroke="#d5008f"/>
<path d="M927.3 202.3h0" stroke="#ff0051"/>
<path d="M920.9 203.2h0M918.5 205.8h0M916.7 201.1h0M905.9 203.1h0" stroke="#008bfb"/>
<path d="M933.0 201.9h0" stroke="#d5008f"/>
<path d="M931.2 203.2h0M936.8 202.1h0" stroke="#7b4acc"/>
<path d="M939.2 203.1h0M927.6 203.9h0" stroke="#d5008f"/>
<path d="M920.7 204.9h0M922.7 203.1h0M900.2 203.2h0M918.7 200.3h0M902.1 203.2h0" stroke="#008bfb"/>
<path d="M929.6 200.1h0M925.6 202.2h0" stroke="#7b4acc"/>
<path d="M929.4 204.0h0" stroke="#d5008f"/>
<path d="M904.5 203.0h0M907.9 203.0h0M917.1 206.7h0" stroke="#008bfb"/>
<path d="M933.3 203.7h0" stroke="#ff0051"/>
<path d="M913.0 204.0h0M916.8 204.8h0M911.5 203.3h0M918.8 204.0h0" stroke="#008bfb"/>
<path d="M934.9 201.8h0M925.6 204.2h0" stroke="#7b4acc"/>
<path d="M940.6 203.0h0" stroke="#d5008f"/>
<path d="M923.8 203.1h0" stroke="#d5008f"/>
<path d="M929.2 205.8h0M929.3 202.2h0" stroke="#7b4acc"/>
<path d="M913.1 202.1h0M916.9 198.9h0M916.7 203.1h0M915.3 201.9h0" stroke="#008bfb"/>
<path d="M912.9 218.6h0" stroke="#008bfb"/>
<path d="M944.3 219.5h0M922.6 217.7h0M943.0 219.5h0M939.3 219.5h0M942.6 218.7h0M914.9 217.5h0M928.4 219.6h0" stroke="#ff0051"/>
<path d="M902.7 219.5h0" stroke="#7b4acc"/>
<path d="M935.7 219.4h0M920.4 223.5h0M911.4 219.8h0M940.5 218.3h0M916.7 219.8h0" stroke="#ff0051"/>
<path d="M924.5 218.7h0M922.4 221.4h0" stroke="#008bfb"/>
<path d="M899.0 219.4h0M920.9 216.0h0" stroke="#7b4acc"/>
<path d="M916.7 221.5h0M942.7 220.6h0M935.2 219.7h0M941.0 220.5h0M915.1 219.3h0M930.0 219.5h0" stroke="#ff0051"/>
<path d="M908.2 219.5h0M914.9 221.1h0" stroke="#7b4acc"/>
<path d="M924.6 220.7h0" stroke="#008bfb"/>
<path d="M918.5 218.5h0M941.6 219.3h0M925.9 219.6h0M933.9 219.4h0M945.1 219.8h0M937.3 219.4h0M919.0 220.3h0" stroke="#ff0051"/>
<path d="M922.4 219.5h0" stroke="#008bfb"/>
<path d="M910.1 219.7h0" stroke="#7b4acc"/>
<path d="M919.0 224.2h0M920.5 217.8h0M918.6 214.7h0M939.0 220.5h0M938.7 218.5h0M921.0 219.6h0" stroke="#ff0051"/>
<path d="M913.3 220.5h0" stroke="#008bfb"/>
<path d="M906.6 219.3h0M920.7 221.8h0" stroke="#7b4acc"/>
<path d="M904.5 219.5h0M918.9 222.3h0M900.8 219.6h0M916.7 217.8h0M897.0 219.4h0" stroke="#7b4acc"/>
<path d="M918.5 216.8h0M936.9 219.7h0M947.4 219.5h0M931.9 219.7h0" stroke="#ff0051"/>
<path d="M911.8 236.8h0M914.1 236.8h0M902.6 235.1h0M915.7 236.9h0M915.9 235.1h0" stroke="#ff0051"/>
<path d="M926.5 235.2h0M928.2 233.0h0M934.4 234.8h0" stroke="#008bfb"/>
<path d="M928.3 231.0h0M926.5 240.7h0" stroke="#d5008f"/>
<path d="M928.6 238.9h0M928.4 236.9h0M926.6 238.9h0M922.6 236.0h0" stroke="#008bfb"/>
<path d="M921.7 234.7h0M919.7 236.9h0M902.5 237.0h0M908.2 238.8h0M914.1 232.9h0M908.1 232.8h0" stroke="#ff0051"/>
<path d="M928.3 234.8h0" stroke="#d5008f"/>
<path d="M934.5 236.9h0M924.9 235.8h0M930.4 236.8h0M935.9 235.8h0M928.6 240.6h0" stroke="#008bfb"/>
<path d="M908.0 234.9h0M898.7 236.4h0M904.3 234.9h0" stroke="#ff0051"/>
<path d="M926.4 233.2h0M932.5 235.5h0" stroke="#d5008f"/>
<path d="M900.5 236.1h0M912.0 238.7h0M917.6 238.3h0M908.2 236.7h0" stroke="#ff0051"/>
<path d="M926.3 237.0h0M930.6 235.1h0M924.8 234.1h0" stroke="#008bfb"/>
<path d="M924.7 237.9h0M926.5 231.4h0" stroke="#008bfb"/>
<path d="M917.8 234.3h0M910.1 237.8h0M917.7 236.2h0M906.2 235.1h0M914.0 238.8h0M921.6 236.6h0M943.6 236.0h0" stroke="#ff0051"/>
<path d="M909.9 235.8h0M904.4 236.8h0M910.0 233.9h0M906.3 237.1h0M912.2 235.1h0M911.9 233.2h0M919.4 235.3h0M913.6 234.8h0" stroke="#ff0051"/>
<path d="M932.3 237.2h0" stroke="#d5008f"/>
<path d="M940.0 252.5h0" stroke="#008bfb"/>
<path d="M935.5 252.1h0M921.8 252.6h0M923.7 251.3h0" stroke="#7b4acc"/>
<path d="M909.1 254.8h0M909.2 252.8h0M916.6 251.8h0M918.4 251.5h0M918.6 253.3h0" stroke="#ff0051"/>
<path d="M931.5 250.5h0M927.7 249.0h0M927.7 254.4h0M927.7 250.7h0" stroke="#7b4acc"/>
<path d="M914.5 250.6h0M907.4 252.5h0M910.6 251.7h0" stroke="#ff0051"/>
<path d="M901.5 252.7h0" stroke="#d5008f"/>
<path d="M931.7 254.5h0" stroke="#008bfb"/>
<path d="M903.2 253.6h0M907.2 254.3h0" stroke="#d5008f"/>
<path d="M920.3 252.7h0M907.2 250.9h0M910.8 250.0h0M914.5 254.4h0" stroke="#ff0051"/>
<path d="M927.6 252.4h0M929.4 249.8h0" stroke="#7b4acc"/>
<path d="M929.9 251.6h0M933.2 251.4h0M925.8 255.2h0" stroke="#7b4acc"/>
<path d="M911.1 255.6h0M912.9 251.5h0" stroke="#d5008f"/>
<path d="M929.3 255.2h0" stroke="#008bfb"/>
<path d="M912.6 253.3h0M910.6 253.8h0" stroke="#ff0051"/>
<path d="M922.2 252.6h0M899.2 252.8h0M916.6 253.7h0" stroke="#ff0051"/>
<path d="M931.6 252.4h0M929.5 253.4h0M926.1 253.3h0M928.0 256.4h0" stroke="#008bfb"/>
<path d="M923.8 253.3h0" stroke="#7b4acc"/>
<path d="M925.5 249.6h0M925.7 251.7h0" stroke="#7b4acc"/>
<path d="M903.2 251.9h0M905.3 251.5h0M909.0 250.9h0M905.2 253.6h0" stroke="#ff0051"/>
<path d="M914.9 252.6h0" stroke="#d5008f"/>
<path d="M933.3 253.4h0" stroke="#008bfb"/>
<path d="M893.7 268.7h0M910.6 268.2h0M891.3 269.0h0M908.8 268.3h0M896.9 269.0h0M908.9 270.0h0" stroke="#ff0051"/>
<path d="M925.9 267.2h0" stroke="#008bfb"/>
<path d="M924.1 269.0h0M925.7 272.8h0M922.4 268.7h0M926.1 270.9h0" stroke="#008bfb"/>
<path d="M918.1 270.0h0M889.7 269.0h0M895.4 268.7h0" stroke="#ff0051"/>
<path d="M907.2 268.8h0M916.3 271.1h0M914.8 270.6h0M914.9 268.6h0" stroke="#ff0051"/>
<path d="M926.0 265.2h0M924.0 267.1h0" stroke="#008bfb"/>
<path d="M925.9 268.9h0" stroke="#d5008f"/>
<path d="M927.8 270.2h0M924.4 270.7h0" stroke="#008bfb"/>
<path d="M918.7 267.8h0M912.8 269.1h0M916.3 267.3h0M913.0 267.3h0M904.8 269.0h0" stroke="#ff0051"/>
<path d="M910.8 270.1h0M912.4 271.2h0M902.8 268.6h0M920.3 268.8h0M916.7 269.0h0M914.8 264.8h0" stroke="#ff0051"/>
<path d="M922.0 270.5h0" stroke="#008bfb"/>
<path d="M914.4 272.6h0M900.9 269.1h0M914.9 267.0h0M899.0 269.3h0" stroke="#ff0051"/>
<path d="M922.2 267.0h0M927.9 268.1h0" stroke="#008bfb"/>
<path d="M920.3 268.9h0" stroke="#d5008f"/>
<path d="M922.6 286.6h0M921.6 284.5h0M922.8 284.8h0M921.3 286.5h0" stroke="#7b4acc"/>
<path d="M923.7 285.3h0M916.0 280.8h0" stroke="#555fe0"/>
<path d="M908.4 286.2h0M914.1 284.6h0" stroke="#008bfb"/>
<path d="M944.2 285.3h0M932.8 285.5h0" stroke="#ff0051"/>
<path d="M916.2 286.5h0M918.0 286.3h0" stroke="#008bfb"/>
<path d="M914.1 286.2h0M918.7 286.6h0M920.7 284.5h0M920.7 286.3h0M919.9 287.2h0" stroke="#7b4acc"/>
<path d="M951.4 285.5h0" stroke="#ff0051"/>
<path d="M917.8 280.5h0" stroke="#555fe0"/>
<path d="M924.4 286.3h0M919.0 284.6h0M910.0 286.4h0M926.6 285.6h0" stroke="#7b4acc"/>
<path d="M915.6 282.5h0" stroke="#555fe0"/>
<path d="M918.0 282.5h0M908.3 284.5h0M917.5 284.3h0" stroke="#008bfb"/>
<path d="M928.9 285.9h0" stroke="#ff0051"/>
<path d="M910.0 288.1h0M916.1 288.4h0M919.6 283.4h0" stroke="#008bfb"/>
<path d="M936.7 285.7h0M938.5 285.1h0" stroke="#d5008f"/>
<path d="M922.5 282.7h0M924.8 284.4h0M906.4 285.5h0" stroke="#7b4acc"/>
<path d="M934.5 285.8h0" stroke="#ff0051"/>
<path d="M912.2 286.1h0M917.6 290.2h0M922.4 288.6h0M910.2 284.3h0M919.5 285.2h0" stroke="#7b4acc"/>
<path d="M942.0 285.6h0M930.7 285.4h0" stroke="#ff0051"/>
<path d="M926.8 285.3h0" stroke="#d5008f"/>
<path d="M893.7 285.5h0" stroke="#008bfb"/>
<path d="M911.9 284.3h0M917.9 288.2h0M910.2 282.5h0M916.0 284.6h0" stroke="#008bfb"/>
<path d="M916.0 290.1h0M904.7 285.5h0" stroke="#555fe0"/>
<path d="M946.0 285.3h0M940.2 285.2h0" stroke="#ff0051"/>
<path d="M917.2 285.6h0" stroke="#7b4acc"/>
<path d="M919.9 298.8h0M921.6 302.7h0M917.9 300.7h0M925.6 299.5h0M918.3 302.8h0" stroke="#008bfb"/>
<path d="M936.7 302.8h0M940.6 301.0h0M939.1 303.0h0" stroke="#7b4acc"/>
<path d="M920.1 304.5h0M922.0 299.2h0M925.6 305.1h0M925.7 303.1h0M923.6 297.0h0" stroke="#008bfb"/>
<path d="M933.2 303.0h0M936.8 300.7h0" stroke="#7b4acc"/>
<path d="M910.5 301.9h0" stroke="#d5008f"/>
<path d="M906.8 302.0h0" stroke="#ff0051"/>
<path d="M929.5 301.2h0M923.9 304.8h0M920.2 302.7h0M923.5 299.2h0" stroke="#008bfb"/>
<path d="M931.4 301.1h0M942.9 302.8h0" stroke="#7b4acc"/>
<path d="M920.0 301.0h0M923.7 301.0h0M923.6 306.8h0M921.8 304.7h0" stroke="#008bfb"/>
<path d="M909.0 302.1h0M914.7 301.8h0" stroke="#ff0051"/>
<path d="M942.8 300.9h0" stroke="#7b4acc"/>
<path d="M927.5 302.2h0M916.4 302.1h0M929.3 303.2h0" stroke="#008bfb"/>
<path d="M912.8 302.2h0" stroke="#d5008f"/>
<path d="M941.0 302.7h0M932.8 301.1h0M934.8 301.0h0" stroke="#7b4acc"/>
<path d="M925.7 301.2h0M922.1 300.7h0M923.8 302.9h0" stroke="#008bfb"/>
<path d="M939.0 300.8h0M931.2 302.8h0M935.1 303.1h0" stroke="#7b4acc"/>
<path d="M902.0 302.0h0" stroke="#d5008f"/>
<path d="M898.6 317.3h0M908.0 317.6h0M906.5 319.3h0M930.3 315.7h0M911.9 317.6h0M914.1 319.8h0" stroke="#008bfb"/>
<path d="M928.4 315.8h0" stroke="#ff0051"/>
<path d="M928.4 321.3h0" stroke="#7b4acc"/>
<path d="M900.8 317.4h0M926.1 317.2h0M900.4 319.3h0M915.8 319.3h0M922.8 317.3h0M910.0 319.6h0" stroke="#008bfb"/>
<path d="M932.3 320.2h0" stroke="#7b4acc"/>
<path d="M926.4 319.0h0" stroke="#ff0051"/>
<path d="M898.9 319.3h0M920.7 317.4h0M915.8 317.3h0M918.7 319.8h0M911.8 319.5h0" stroke="#008bfb"/>
<path d="M924.4 318.5h0M928.2 319.6h0" stroke="#7b4acc"/>
<path d="M909.8 317.4h0M902.6 317.8h0M919.2 317.8h0M924.3 318.5h0M930.1 319.4h0M906.2 317.3h0" stroke="#008bfb"/>
<path d="M930.0 321.4h0" stroke="#ff0051"/>
<path d="M931.9 318.4h0M928.1 317.5h0M930.0 317.6h0M932.3 316.7h0" stroke="#7b4acc"/>
<path d="M921.0 319.2h0M914.1 317.6h0M902.4 319.5h0" stroke="#008bfb"/>
<path d="M933.7 319.2h0" stroke="#7b4acc"/>
<path d="M917.2 318.4h0M904.4 317.9h0M904.6 319.7h0M922.7 319.5h0M908.4 319.6h0M934.0 317.3h0" stroke="#008bfb"/>
<path d="M916.5 335.0h0M926.3 336.0h0M928.2 333.1h0M917.9 337.6h0M918.2 335.7h0" stroke="#ff0051"/>
<path d="M907.2 335.2h0M914.7 334.8h0" stroke="#008bfb"/>
<path d="M932.4 335.9h0M919.9 337.0h0M933.8 335.6h0" stroke="#ff0051"/>
<path d="M920.1 333.4h0M912.9 335.1h0M922.0 335.6h0" stroke="#008bfb"/>
<path d="M920.3 339.1h0M921.8 337.6h0M905.7 335.0h0" stroke="#008bfb"/>
<path d="M924.3 336.0h0M930.0 335.4h0M921.7 332.0h0" stroke="#ff0051"/>
<path d="M918.1 331.9h0M932.1 334.0h0M930.5 333.5h0M928.3 335.1h0M919.9 335.4h0M922.1 333.9h0" stroke="#ff0051"/>
<path d="M917.9 333.7h0M924.4 334.4h0M935.7 334.8h0M926.7 333.9h0" stroke="#ff0051"/>
<path d="M910.6 334.9h0M908.7 334.9h0" stroke="#008bfb"/>
<path d="M920.2 331.2h0M934.3 333.7h0M924.0 335.0h0M928.2 336.7h0M930.4 337.0h0" stroke="#ff0051"/>
<path d="M916.4 335.1h0" stroke="#008bfb"/>
</g>
<text x="554.64" y="26.70" textLength="263.96" lengthAdjust="spacingAndGlyphs" font-family="'Liberation Serif', serif" font-size="13.4" fill="#333">Estimated Glomerular Filtration Rate (eGFR)</text>
<text x="732.40" y="43.20" textLength="86.20" lengthAdjust="spacingAndGlyphs" font-family="'Liberation Serif', serif" font-size="13.4" fill="#333">Admission Age</text>
<text x="677.77" y="59.70" textLength="140.83" lengthAdjust="spacingAndGlyphs" font-family="'Liberation Serif', serif" font-size="13.4" fill="#333">Leukocyte Count (WBC)</text>
<text x="667.85" y="76.20" textLength="150.75" lengthAdjust="spacingAndGlyphs" font-family="'Liberation Serif', serif" font-size="13.4" fill="#333">Fibrin D-Dimer (D-Dimer)</text>
<text x="756.43" y="92.70" textLength="62.17" lengthAdjust="spacingAndGlyphs" font-family="'Liberation Serif', serif" font-size="13.4" fill="#333">Osmolality</text>
<text x="641.24" y="109.20" textLength="177.36" lengthAdjust="spacingAndGlyphs" font-family="'Liberation Serif', serif" font-size="13.4" fill="#333">Basophil Percentage (%BASO)</text>
<text x="748.72" y="125.70" textLength="69.88" lengthAdjust="spacingAndGlyphs" font-family="'Liberation Serif', serif" font-size="13.4" fill="#333">Height (cm)</text>
<text x="731.86" y="142.20" textLength="86.74" lengthAdjust="spacingAndGlyphs" font-family="'Liberation Serif', serif" font-size="13.4" fill="#333">Calcium (Ca²<tspan dy="-4" font-size="8.5">+</tspan><tspan dy="4">)</tspan></text>
<text x="752.62" y="158.70" textLength="65.98" lengthAdjust="spacingAndGlyphs" font-family="'Liberation Serif', serif" font-size="13.4" fill="#333">Arterial pH</text>
<text x="641.51" y="175.20" textLength="177.09" lengthAdjust="spacingAndGlyphs" font-family="'Liberation Serif', serif" font-size="13.4" fill="#333">Mean Arterial Pressure (MAP)</text>
<text x="716.35" y="191.70" textLength="102.25" lengthAdjust="spacingAndGlyphs" font-family="'Liberation Serif', serif" font-size="13.4" fill="#333">Neutrophil Count</text>
<text x="605.38" y="208.20" textLength="213.22" lengthAdjust="spacingAndGlyphs" font-family="'Liberation Serif', serif" font-size="13.4" fill="#333">Gamma-Glutamyl Transferase (GGT)</text>
<text x="595.53" y="224.70" textLength="223.07" lengthAdjust="spacingAndGlyphs" font-family="'Liberation Serif', serif" font-size="13.4" fill="#333">Arterial Oxygen Concentration (PaO2)</text>
<text x="732.83" y="241.20" textLength="85.77" lengthAdjust="spacingAndGlyphs" font-family="'Liberation Serif', serif" font-size="13.4" fill="#333">Albumin (ALB)</text>
<text x="671.83" y="257.70" textLength="146.77" lengthAdjust="spacingAndGlyphs" font-family="'Liberation Serif', serif" font-size="13.4" fill="#333">Erythrocyte Count (RBC)</text>
<text x="696.14" y="274.20" textLength="122.46" lengthAdjust="spacingAndGlyphs" font-family="'Liberation Serif', serif" font-size="13.4" fill="#333">Bicarbonate (HCO<tspan font-size="9">3</tspan><tspan dy="-4" font-size="8.5">−</tspan><tspan dy="4">)</tspan></text>
<text x="618.01" y="290.70" textLength="200.59" lengthAdjust="spacingAndGlyphs" font-family="'Liberation Serif', serif" font-size="13.4" fill="#333">Aspartate Aminotransferase (AST)</text>
<text x="647.83" y="307.20" textLength="170.77" lengthAdjust="spacingAndGlyphs" font-family="'Liberation Serif', serif" font-size="13.4" fill="#333">Creatine Kinase-MB (CK-MB)</text>
<text x="685.36" y="323.70" textLength="133.24" lengthAdjust="spacingAndGlyphs" font-family="'Liberation Serif', serif" font-size="13.4" fill="#333">Direct Bilirubin (DBIL)</text>
<text x="688.67" y="340.20" textLength="129.93" lengthAdjust="spacingAndGlyphs" font-family="'Liberation Serif', serif" font-size="13.4" fill="#333">Arterial Chloride (Cl<tspan dy="-4" font-size="8.5">−</tspan><tspan dy="4">)</tspan></text>
<line x1="840.3" x2="1001.5" y1="351.6" y2="351.6" stroke="#333" stroke-width="1"/>
<line x1="869.5" x2="869.5" y1="351.6" y2="354.6" stroke="#333" stroke-width="1"/>
<text x="864.78" y="365.5" textLength="9.45" lengthAdjust="spacingAndGlyphs" font-family="'Liberation Serif', serif" font-size="10.9" fill="#333">-2</text>
<line x1="924" x2="924" y1="351.6" y2="354.6" stroke="#333" stroke-width="1"/>
<text x="920.91" y="365.5" textLength="6.17" lengthAdjust="spacingAndGlyphs" font-family="'Liberation Serif', serif" font-size="10.9" fill="#333">0</text>
<line x1="978.5" x2="978.5" y1="351.6" y2="354.6" stroke="#333" stroke-width="1"/>
<text x="975.41" y="365.5" textLength="6.17" lengthAdjust="spacingAndGlyphs" font-family="'Liberation Serif', serif" font-size="10.9" fill="#333">2</text>
<text x="810.27" y="380" textLength="220.66" lengthAdjust="spacingAndGlyphs" font-family="'Liberation Serif', serif" font-size="12.9" fill="#333">SHAP value (impact on model output)</text>
<rect x="1011.1" y="5.5" width="4.2" height="346.2" fill="url(#cbar)"/>
<text x="1018.5" y="9.3" textLength="24.02" lengthAdjust="spacingAndGlyphs" font-family="'Liberation Serif', serif" font-size="10.9" fill="#333">High</text>
<text x="1018.5" y="355.6" textLength="20.58" lengthAdjust="spacingAndGlyphs" font-family="'Liberation Serif', serif" font-size="10.9" fill="#333">Low</text>
<text transform="translate(1050.5,178) rotate(-90)" x="-36.98" y="0" textLength="73.96" lengthAdjust="spacingAndGlyphs" font-family="'Liberation Serif', serif" font-size="11.9" fill="#333">Feature value</text>
<text x="97.6" y="441.3" font-family="'Liberation Serif', serif" font-size="29" font-weight="bold" fill="#000">a.</text>
<text x="134.0" y="441.3" font-family="'Liberation Serif', serif" font-size="29" fill="#000" textLength="258.30" lengthAdjust="spacingAndGlyphs">SHAP-Random Forest</text>
<text x="652.4" y="441.3" font-family="'Liberation Serif', serif" font-size="29" font-weight="bold" fill="#000">b.</text>
<text x="688.4" y="441.3" font-family="'Liberation Serif', serif" font-size="29" fill="#000" textLength="189.90" lengthAdjust="spacingAndGlyphs">SHAP-XGBoost</text>
<text x="151.0" y="680.2" font-family="'Liberation Serif', serif" font-size="29" font-weight="bold" fill="#000">c.</text>
<text x="185.2" y="680.2" font-family="'Liberation Serif', serif" font-size="29" fill="#000" textLength="532.10" lengthAdjust="spacingAndGlyphs">Individual prediction explanation: non-rupture</text>
<text x="143.8" y="833.1" font-family="'Liberation Serif', serif" font-size="29" font-weight="bold" fill="#000">d.</text>
<text x="181.0" y="833.1" font-family="'Liberation Serif', serif" font-size="29" fill="#000" textLength="480.90" lengthAdjust="spacingAndGlyphs">Individual prediction explanation: rupture</text>
<line x1="55" x2="1000.5" y1="542.9" y2="542.9" stroke="#9a9a9a" stroke-width="1.4"/>
<line x1="150.50" x2="150.50" y1="542.9" y2="547.1999999999999" stroke="#666" stroke-width="1"/>
<text x="150.50" y="536.50" text-anchor="middle" font-family="'Liberation Sans', sans-serif" font-size="14.7" font-weight="normal" fill="#888" textLength="54.03" lengthAdjust="spacingAndGlyphs">-0.09811</text>
<line x1="276.40" x2="276.40" y1="542.9" y2="547.1999999999999" stroke="#666" stroke-width="1"/>
<text x="276.40" y="536.50" text-anchor="middle" font-family="'Liberation Sans', sans-serif" font-size="14.7" font-weight="normal" fill="#888" textLength="42.66" lengthAdjust="spacingAndGlyphs">0.1019</text>
<line x1="402.30" x2="402.30" y1="542.9" y2="547.1999999999999" stroke="#666" stroke-width="1"/>
<text x="402.30" y="536.50" text-anchor="middle" font-family="'Liberation Sans', sans-serif" font-size="14.7" font-weight="normal" fill="#888" textLength="42.66" lengthAdjust="spacingAndGlyphs">0.3019</text>
<line x1="528.20" x2="528.20" y1="542.9" y2="547.1999999999999" stroke="#666" stroke-width="1"/>
<text x="528.20" y="536.50" text-anchor="middle" font-family="'Liberation Sans', sans-serif" font-size="14.7" font-weight="normal" fill="#888" textLength="42.66" lengthAdjust="spacingAndGlyphs">0.5019</text>
<line x1="654.10" x2="654.10" y1="542.9" y2="547.1999999999999" stroke="#666" stroke-width="1"/>
<text x="654.10" y="536.50" text-anchor="middle" font-family="'Liberation Sans', sans-serif" font-size="14.7" font-weight="normal" fill="#888" textLength="42.66" lengthAdjust="spacingAndGlyphs">0.7019</text>
<line x1="780.00" x2="780.00" y1="542.9" y2="547.1999999999999" stroke="#666" stroke-width="1"/>
<text x="780.00" y="536.50" text-anchor="middle" font-family="'Liberation Sans', sans-serif" font-size="14.7" font-weight="normal" fill="#888" textLength="42.66" lengthAdjust="spacingAndGlyphs">0.9019</text>
<line x1="905.90" x2="905.90" y1="542.9" y2="547.1999999999999" stroke="#666" stroke-width="1"/>
<text x="905.90" y="536.50" text-anchor="middle" font-family="'Liberation Sans', sans-serif" font-size="14.7" font-weight="normal" fill="#888" textLength="34.91" lengthAdjust="spacingAndGlyphs">1.102</text>
<text x="183.00" y="498.60" text-anchor="start" font-family="'Liberation Sans', sans-serif" font-size="14.9" font-weight="normal" fill="#ff0052" textLength="41.50" lengthAdjust="spacingAndGlyphs">higher</text>
<text x="262.00" y="498.60" text-anchor="start" font-family="'Liberation Sans', sans-serif" font-size="14.9" font-weight="normal" fill="#008ae8" textLength="35.50" lengthAdjust="spacingAndGlyphs">lower</text>
<path d="M236.5 490.6 H250.3 M247.3 488.3 L250.3 490.6 L247.3 492.9" fill="none" stroke="#ff0052" stroke-width="1.1"/>
<path d="M250.5 497.6 H236.7 M239.7 495.3 L236.7 497.6 L239.7 499.9" fill="none" stroke="#008ae8" stroke-width="1.1"/>
<text x="528.50" y="517.60" text-anchor="middle" font-family="'Liberation Sans', sans-serif" font-size="13.7" font-weight="normal" fill="#999" textLength="66.30" lengthAdjust="spacingAndGlyphs">base value</text>
<text x="243.30" y="517.00" text-anchor="middle" font-family="'Liberation Sans', sans-serif" font-size="13.7" font-weight="normal" fill="#999" textLength="19.30" lengthAdjust="spacingAndGlyphs">f(x)</text>
<text x="243.30" y="535.90" text-anchor="middle" font-family="'Liberation Sans', sans-serif" font-size="20.8" font-weight="bold" fill="#000" textLength="45.60" lengthAdjust="spacingAndGlyphs" stroke="#fff" stroke-width="4.5" paint-order="stroke">0.05</text>
<defs><linearGradient id="gp" x1="0" y1="0" x2="0" y2="1"><stop offset="0" stop-color="#ff0052" stop-opacity="0.11"/><stop offset="0.6" stop-color="#ff0052" stop-opacity="0.07"/><stop offset="1" stop-color="#ff0052" stop-opacity="0"/></linearGradient><linearGradient id="gb" x1="0" y1="0" x2="0" y2="1"><stop offset="0" stop-color="#008ae8" stop-opacity="0.11"/><stop offset="0.6" stop-color="#008ae8" stop-opacity="0.07"/><stop offset="1" stop-color="#008ae8" stop-opacity="0"/></linearGradient><linearGradient id="gl" x1="0" y1="0" x2="0" y2="1"><stop offset="0" stop-opacity="1" stop-color="#fff"/><stop offset="1" stop-opacity="0" stop-color="#fff"/></linearGradient></defs>
<defs><linearGradient id="gsp" gradientUnits="userSpaceOnUse" x1="0" y1="569" x2="0" y2="603"><stop offset="0" stop-color="#ff0052" stop-opacity="0.7"/><stop offset="0.7" stop-color="#ff0052" stop-opacity="0.45"/><stop offset="1" stop-color="#ff0052" stop-opacity="0"/></linearGradient><linearGradient id="gsb" gradientUnits="userSpaceOnUse" x1="0" y1="575" x2="0" y2="603"><stop offset="0" stop-color="#008ae8" stop-opacity="0.5"/><stop offset="0.7" stop-color="#008ae8" stop-opacity="0.3"/><stop offset="1" stop-color="#008ae8" stop-opacity="0"/></linearGradient><linearGradient id="gsp2" gradientUnits="userSpaceOnUse" x1="0" y1="575" x2="0" y2="603"><stop offset="0" stop-color="#ff0052" stop-opacity="0.15"/><stop offset="1" stop-color="#ff0052" stop-opacity="0"/></linearGradient></defs>
<path d="M227.8 568.7 L243.3 568.7 L243.3 603 L75.7 603 L75.7 580.2 Z" fill="url(#gp)"/>
<path d="M227.8 569.1 L75.7 580.2" fill="none" stroke="#ff0052" stroke-opacity="0.12" stroke-width="1"/>
<path d="M75.7 580.2 L75.7 603" fill="none" stroke="url(#gsp2)" stroke-width="1"/>
<path d="M243.3 568.7 L297 568.7 L577.8 580.9 L577.8 603 L243.3 603 L243.3 580.2 Z" fill="url(#gb)"/>
<path d="M297 569.2 L577.8 580.9" fill="none" stroke="#008ae8" stroke-opacity="0.45" stroke-width="1"/>
<path d="M577.8 580.9 L577.8 603" fill="none" stroke="url(#gsb)" stroke-width="1"/>
<path d="M297 568.7 L336.3 568.7 L800.5 579.6 L800.5 603 L577.8 603 L577.8 580.2 Z" fill="url(#gb)"/>
<path d="M336.3 569.2 L800.5 579.6" fill="none" stroke="#008ae8" stroke-opacity="0.45" stroke-width="1"/>
<path d="M800.5 579.6 L800.5 603" fill="none" stroke="url(#gsb)" stroke-width="1"/>
<path d="M336.3 568.7 L364 568.7 L1000.5 576.6 L1000.5 603 L800.5 603 L800.5 580.2 Z" fill="url(#gb)"/>
<path d="M364 569.2 L1000.5 576.6" fill="none" stroke="#008ae8" stroke-opacity="0.45" stroke-width="1"/>
<path d="M390 569.2 L1000.5 575.1" fill="none" stroke="#008ae8" stroke-opacity="0.15" stroke-width="1"/>
<path d="M408.8 569.2 L1000.5 575.1" fill="none" stroke="#008ae8" stroke-opacity="0.15" stroke-width="1"/>
<path d="M422 569.2 L1000.5 575.1" fill="none" stroke="#008ae8" stroke-opacity="0.15" stroke-width="1"/>
<path d="M435 569.2 L1000.5 575.1" fill="none" stroke="#008ae8" stroke-opacity="0.15" stroke-width="1"/>
<path d="M447.5 569.2 L1000.5 575.1" fill="none" stroke="#008ae8" stroke-opacity="0.15" stroke-width="1"/>
<line x1="243.6" x2="243.6" y1="568.7" y2="603" stroke="url(#gsp)" stroke-width="1"/>
<path d="M212.1 549.3 L223.8 549.3 L227.2 559.0 L223.8 568.7 L212.1 568.7 L215.1 559.0 Z" fill="#ffbcd0"/>
<path d="M223.8 549.3 L243.3 549.3 L243.3 568.7 L223.8 568.7 L227.2 559.0 Z" fill="#ff0052"/>
<polyline points="226.50,549.30 229.90,559.00 226.50,568.70" fill="none" stroke="#fff" stroke-width="1.3" stroke-opacity="1"/>
<path d="M243.3 549.3 L542.5 549.3 L542.5 568.7 L243.3 568.7 Z" fill="#008ae8"/>
<path d="M542.5 549.3 L558.7 549.3 L555.2 559.0 L558.7 568.7 L542.5 568.7 Z" fill="#a8d0f4"/>
<polyline points="301.00,549.30 297.00,559.00 301.00,568.70" fill="none" stroke="#fff" stroke-width="1.5" stroke-opacity="1"/>
<polyline points="340.30,549.30 336.30,559.00 340.30,568.70" fill="none" stroke="#fff" stroke-width="1.5" stroke-opacity="1"/>
<polyline points="367.80,549.30 363.80,559.00 367.80,568.70" fill="none" stroke="#fff" stroke-width="1.5" stroke-opacity="1"/>
<polyline points="394.00,549.30 390.00,559.00 394.00,568.70" fill="none" stroke="#fff" stroke-width="1.5" stroke-opacity="1"/>
<polyline points="412.80,549.30 408.80,559.00 412.80,568.70" fill="none" stroke="#fff" stroke-width="1.5" stroke-opacity="1"/>
<polyline points="426.00,549.30 422.00,559.00 426.00,568.70" fill="none" stroke="#fff" stroke-width="1.5" stroke-opacity="1"/>
<polyline points="439.00,549.30 435.00,559.00 439.00,568.70" fill="none" stroke="#fff" stroke-width="1.5" stroke-opacity="1"/>
<polyline points="449.60,549.30 445.60,559.00 449.60,568.70" fill="none" stroke="#fff" stroke-width="1.5" stroke-opacity="1"/>
<polyline points="459.40,549.30 455.40,559.00 459.40,568.70" fill="none" stroke="#fff" stroke-width="1.5" stroke-opacity="1"/>
<polyline points="469.30,549.30 465.30,559.00 469.30,568.70" fill="none" stroke="#fff" stroke-width="1.5" stroke-opacity="1"/>
<polyline points="478.60,549.30 474.60,559.00 478.60,568.70" fill="none" stroke="#fff" stroke-width="1.5" stroke-opacity="1"/>
<polyline points="487.90,549.30 483.90,559.00 487.90,568.70" fill="none" stroke="#fff" stroke-width="1.5" stroke-opacity="1"/>
<polyline points="496.50,549.30 492.50,559.00 496.50,568.70" fill="none" stroke="#fff" stroke-width="1.5" stroke-opacity="1"/>
<polyline points="503.90,549.30 499.90,559.00 503.90,568.70" fill="none" stroke="#fff" stroke-width="1.5" stroke-opacity="1"/>
<polyline points="510.70,549.30 506.70,559.00 510.70,568.70" fill="none" stroke="#fff" stroke-width="1.5" stroke-opacity="1"/>
<polyline points="516.90,549.30 512.90,559.00 516.90,568.70" fill="none" stroke="#fff" stroke-width="1.5" stroke-opacity="1"/>
<polyline points="522.50,549.30 518.50,559.00 522.50,568.70" fill="none" stroke="#fff" stroke-width="1.5" stroke-opacity="1"/>
<polyline points="527.40,549.30 523.40,559.00 527.40,568.70" fill="none" stroke="#fff" stroke-width="1.5" stroke-opacity="1"/>
<polyline points="531.70,549.30 527.70,559.00 531.70,568.70" fill="none" stroke="#fff" stroke-width="1.5" stroke-opacity="1"/>
<polyline points="535.40,549.30 531.40,559.00 535.40,568.70" fill="none" stroke="#fff" stroke-width="1.5" stroke-opacity="1"/>
<polyline points="539.20,549.30 535.20,559.00 539.20,568.70" fill="none" stroke="#fff" stroke-width="1.5" stroke-opacity="1"/>
<polyline points="542.20,549.30 538.20,559.00 542.20,568.70" fill="none" stroke="#fff" stroke-width="1.5" stroke-opacity="1"/>
<polyline points="544.70,549.30 540.70,559.00 544.70,568.70" fill="none" stroke="#fff" stroke-width="1.5" stroke-opacity="1"/>
<polyline points="547.20,549.30 543.20,559.00 547.20,568.70" fill="none" stroke="#fff" stroke-width="0.9" stroke-opacity="0.55"/>
<polyline points="549.40,549.30 545.40,559.00 549.40,568.70" fill="none" stroke="#fff" stroke-width="0.9" stroke-opacity="0.55"/>
<polyline points="551.60,549.30 547.60,559.00 551.60,568.70" fill="none" stroke="#fff" stroke-width="0.9" stroke-opacity="0.55"/>
<polyline points="553.60,549.30 549.60,559.00 553.60,568.70" fill="none" stroke="#fff" stroke-width="0.9" stroke-opacity="0.55"/>
<polyline points="555.50,549.30 551.50,559.00 555.50,568.70" fill="none" stroke="#fff" stroke-width="0.9" stroke-opacity="0.55"/>
<g clip-path="url(#clipc)">
<text x="237.40" y="597.60" text-anchor="end" font-family="'Liberation Sans', sans-serif" font-size="13.75" font-weight="normal" fill="#ff0052" textLength="155.40" lengthAdjust="spacingAndGlyphs">Pain Assessment = 6.574</text>
<text x="249.50" y="597.60" text-anchor="start" font-family="'Liberation Sans', sans-serif" font-size="13.75" font-weight="normal" fill="#008ae8" textLength="322.30" lengthAdjust="spacingAndGlyphs">Estimated Glomerular Filtration Rate (eGFR) = 0.495</text>
<text x="584.50" y="597.60" text-anchor="start" font-family="'Liberation Sans', sans-serif" font-size="13.75" font-weight="normal" fill="#008ae8" textLength="210.20" lengthAdjust="spacingAndGlyphs">Leukocyte Count (WBC) = -0.7256</text>
<text x="806.40" y="597.60" text-anchor="start" font-family="'Liberation Sans', sans-serif" font-size="13.75" font-weight="normal" fill="#008ae8" textLength="191.30" lengthAdjust="spacingAndGlyphs">Fibrin D-Dimer (D-Dimer) = -0.2</text>
</g>
<rect x="40" y="595" width="970" height="10" fill="url(#gl)" opacity="0"/>
<line x1="40.5" x2="997.5" y1="743.5" y2="743.5" stroke="#a0a0a0" stroke-width="0.8"/>
<line x1="77.00" x2="77.00" y1="743.5" y2="745.3" stroke="#777" stroke-width="0.6"/>
<text x="77.00" y="740.30" text-anchor="middle" font-family="'Liberation Sans', sans-serif" font-size="6.5" font-weight="normal" fill="#888">0.001894</text>
<line x1="165.30" x2="165.30" y1="743.5" y2="745.3" stroke="#777" stroke-width="0.6"/>
<text x="165.30" y="740.30" text-anchor="middle" font-family="'Liberation Sans', sans-serif" font-size="6.5" font-weight="normal" fill="#888">0.1019</text>
<line x1="253.60" x2="253.60" y1="743.5" y2="745.3" stroke="#777" stroke-width="0.6"/>
<text x="253.60" y="740.30" text-anchor="middle" font-family="'Liberation Sans', sans-serif" font-size="6.5" font-weight="normal" fill="#888">0.2019</text>
<line x1="341.90" x2="341.90" y1="743.5" y2="745.3" stroke="#777" stroke-width="0.6"/>
<text x="341.90" y="740.30" text-anchor="middle" font-family="'Liberation Sans', sans-serif" font-size="6.5" font-weight="normal" fill="#888">0.3019</text>
<line x1="430.20" x2="430.20" y1="743.5" y2="745.3" stroke="#777" stroke-width="0.6"/>
<text x="430.20" y="740.30" text-anchor="middle" font-family="'Liberation Sans', sans-serif" font-size="6.5" font-weight="normal" fill="#888">0.4019</text>
<line x1="518.50" x2="518.50" y1="743.5" y2="745.3" stroke="#777" stroke-width="0.6"/>
<text x="518.50" y="740.30" text-anchor="middle" font-family="'Liberation Sans', sans-serif" font-size="6.5" font-weight="normal" fill="#888">0.5019</text>
<line x1="606.80" x2="606.80" y1="743.5" y2="745.3" stroke="#777" stroke-width="0.6"/>
<text x="606.80" y="740.30" text-anchor="middle" font-family="'Liberation Sans', sans-serif" font-size="6.5" font-weight="normal" fill="#888">0.6019</text>
<line x1="695.10" x2="695.10" y1="743.5" y2="745.3" stroke="#777" stroke-width="0.6"/>
<text x="695.10" y="740.30" text-anchor="middle" font-family="'Liberation Sans', sans-serif" font-size="6.5" font-weight="normal" fill="#888">0.7019</text>
<line x1="783.40" x2="783.40" y1="743.5" y2="745.3" stroke="#777" stroke-width="0.6"/>
<text x="783.40" y="740.30" text-anchor="middle" font-family="'Liberation Sans', sans-serif" font-size="6.5" font-weight="normal" fill="#888">0.8019</text>
<line x1="871.70" x2="871.70" y1="743.5" y2="745.3" stroke="#777" stroke-width="0.6"/>
<text x="871.70" y="740.30" text-anchor="middle" font-family="'Liberation Sans', sans-serif" font-size="6.5" font-weight="normal" fill="#888">0.9019</text>
<line x1="960.00" x2="960.00" y1="743.5" y2="745.3" stroke="#777" stroke-width="0.6"/>
<text x="960.00" y="740.30" text-anchor="middle" font-family="'Liberation Sans', sans-serif" font-size="6.5" font-weight="normal" fill="#888">1.002</text>
<text x="631.00" y="724.00" text-anchor="middle" font-family="'Liberation Sans', sans-serif" font-size="6.7" font-weight="normal" fill="#ff0052">higher</text>
<text x="665.00" y="724.00" text-anchor="middle" font-family="'Liberation Sans', sans-serif" font-size="6.7" font-weight="normal" fill="#008ae8">lower</text>
<path d="M645.5 720 H652.5 M651 718.6 L652.5 720 L651 721.4" fill="none" stroke="#ff0052" stroke-width="0.8"/>
<path d="M652.5 723 H645.5 M647 721.6 L645.5 723 L647 724.4" fill="none" stroke="#008ae8" stroke-width="0.8"/>
<text x="518.10" y="731.60" text-anchor="middle" font-family="'Liberation Sans', sans-serif" font-size="6.2" font-weight="normal" fill="#999">base value</text>
<text x="649.00" y="731.20" text-anchor="middle" font-family="'Liberation Sans', sans-serif" font-size="6.2" font-weight="normal" fill="#999">f(x)</text>
<text x="649.00" y="740.90" text-anchor="middle" font-family="'Liberation Sans', sans-serif" font-size="10.2" font-weight="bold" fill="#000" textLength="20.60" lengthAdjust="spacingAndGlyphs" stroke="#fff" stroke-width="1.5" paint-order="stroke">0.65</text>
<path d="M329.3 754.7 L336 754.7 L82.5 759.3 L82.5 772 L40.5 772 L40.5 759.3 Z" fill="url(#gp)"/>
<path d="M329.3 755.0 L40.5 759.3 L40.5 769" fill="none" stroke="#ff0052" stroke-opacity="0.4" stroke-width="0.6"/>
<path d="M336 754.7 L341 754.7 L141.8 759.3 L141.8 772 L82.5 772 L82.5 759.3 Z" fill="url(#gp)"/>
<path d="M336 755.0 L82.5 759.3 L82.5 769" fill="none" stroke="#ff0052" stroke-opacity="0.4" stroke-width="0.6"/>
<path d="M341 754.7 L350 754.7 L242.3 759.3 L242.3 772 L141.8 772 L141.8 759.3 Z" fill="url(#gp)"/>
<path d="M341 755.0 L141.8 759.3 L141.8 769" fill="none" stroke="#ff0052" stroke-opacity="0.4" stroke-width="0.6"/>
<path d="M350 754.7 L362.6 754.7 L304.5 759.3 L304.5 772 L242.3 772 L242.3 759.3 Z" fill="url(#gp)"/>
<path d="M350 755.0 L242.3 759.3 L242.3 769" fill="none" stroke="#ff0052" stroke-opacity="0.4" stroke-width="0.6"/>
<path d="M362.6 754.7 L398.5 754.7 L398.5 759.3 L398.5 772 L304.5 772 L304.5 759.3 Z" fill="url(#gp)"/>
<path d="M362.6 755.0 L304.5 759.3 L304.5 769" fill="none" stroke="#ff0052" stroke-opacity="0.4" stroke-width="0.6"/>
<path d="M398.5 754.7 L548.7 754.7 L549.4 759.3 L549.4 772 L398.5 772 L398.5 759.3 Z" fill="url(#gp)"/>
<path d="M398.5 755.0 L398.5 759.3 L398.5 769" fill="none" stroke="#ff0052" stroke-opacity="0.4" stroke-width="0.6"/>
<path d="M548.7 754.7 L649 754.7 L649 759.3 L649 772 L549.4 772 L549.4 759.3 Z" fill="url(#gp)"/>
<path d="M548.7 755.0 L549.4 759.3 L549.4 769" fill="none" stroke="#ff0052" stroke-opacity="0.4" stroke-width="0.6"/>
<path d="M649 754.7 L743.5 754.7 L767.3 759.3 L767.3 772 L649 772 L649 759.3 Z" fill="url(#gb)"/>
<path d="M743.5 755.0 L767.3 759.3 L767.3 769" fill="none" stroke="#008ae8" stroke-opacity="0.4" stroke-width="0.6"/>
<path d="M743.5 754.7 L768.8 754.7 L840.5 759.3 L840.5 772 L767.3 772 L767.3 759.3 Z" fill="url(#gb)"/>
<path d="M768.8 755.0 L840.5 759.3 L840.5 769" fill="none" stroke="#008ae8" stroke-opacity="0.4" stroke-width="0.6"/>
<path d="M768.8 754.7 L791.1 754.7 L910.5 759.3 L910.5 772 L840.5 772 L840.5 759.3 Z" fill="url(#gb)"/>
<path d="M791.1 755.0 L910.5 759.3 L910.5 769" fill="none" stroke="#008ae8" stroke-opacity="0.4" stroke-width="0.6"/>
<path d="M791.1 754.7 L801.6 754.7 L976 759.3 L976 772 L910.5 772 L910.5 759.3 Z" fill="url(#gb)"/>
<path d="M801.6 755.0 L976 759.3 L976 769" fill="none" stroke="#008ae8" stroke-opacity="0.4" stroke-width="0.6"/>
<line x1="649.2" x2="649.2" y1="754.7" y2="772" stroke="#ff0052" stroke-opacity="0.5" stroke-width="0.6"/>
<path d="M329.3 745.7 L649 745.7 L649 754.7 L329.3 754.7 L331.3 750.2 Z" fill="#ff0052"/>
<path d="M329.3 745.7 L334 745.7 L334 754.7 L329.3 754.7 L331.3 750.2 Z" fill="#fff" fill-opacity="0.45"/>
<polyline points="331.50,745.70 333.50,750.20 331.50,754.70" fill="none" stroke="#fff" stroke-width="0.7" stroke-opacity="1"/>
<polyline points="334.00,745.70 336.00,750.20 334.00,754.70" fill="none" stroke="#fff" stroke-width="0.7" stroke-opacity="1"/>
<polyline points="336.50,745.70 338.50,750.20 336.50,754.70" fill="none" stroke="#fff" stroke-width="0.7" stroke-opacity="1"/>
<polyline points="339.00,745.70 341.00,750.20 339.00,754.70" fill="none" stroke="#fff" stroke-width="0.7" stroke-opacity="1"/>
<polyline points="342.10,745.70 344.10,750.20 342.10,754.70" fill="none" stroke="#fff" stroke-width="0.7" stroke-opacity="1"/>
<polyline points="345.20,745.70 347.20,750.20 345.20,754.70" fill="none" stroke="#fff" stroke-width="0.7" stroke-opacity="1"/>
<polyline points="348.30,745.70 350.30,750.20 348.30,754.70" fill="none" stroke="#fff" stroke-width="0.7" stroke-opacity="1"/>
<polyline points="352.00,745.70 354.00,750.20 352.00,754.70" fill="none" stroke="#fff" stroke-width="0.7" stroke-opacity="1"/>
<polyline points="355.70,745.70 357.70,750.20 355.70,754.70" fill="none" stroke="#fff" stroke-width="0.7" stroke-opacity="1"/>
<polyline points="360.60,745.70 362.60,750.20 360.60,754.70" fill="none" stroke="#fff" stroke-width="0.7" stroke-opacity="1"/>
<polyline points="365.60,745.70 367.60,750.20 365.60,754.70" fill="none" stroke="#fff" stroke-width="0.7" stroke-opacity="1"/>
<polyline points="371.20,745.70 373.20,750.20 371.20,754.70" fill="none" stroke="#fff" stroke-width="0.7" stroke-opacity="1"/>
<polyline points="377.30,745.70 379.30,750.20 377.30,754.70" fill="none" stroke="#fff" stroke-width="0.7" stroke-opacity="1"/>
<polyline points="384.70,745.70 386.70,750.20 384.70,754.70" fill="none" stroke="#fff" stroke-width="0.7" stroke-opacity="1"/>
<polyline points="396.50,745.70 398.50,750.20 396.50,754.70" fill="none" stroke="#fff" stroke-width="0.7" stroke-opacity="1"/>
<polyline points="409.50,745.70 411.50,750.20 409.50,754.70" fill="none" stroke="#fff" stroke-width="0.7" stroke-opacity="1"/>
<polyline points="428.00,745.70 430.00,750.20 428.00,754.70" fill="none" stroke="#fff" stroke-width="0.7" stroke-opacity="1"/>
<polyline points="447.90,745.70 449.90,750.20 447.90,754.70" fill="none" stroke="#fff" stroke-width="0.7" stroke-opacity="1"/>
<polyline points="472.00,745.70 474.00,750.20 472.00,754.70" fill="none" stroke="#fff" stroke-width="0.7" stroke-opacity="1"/>
<polyline points="496.10,745.70 498.10,750.20 496.10,754.70" fill="none" stroke="#fff" stroke-width="0.7" stroke-opacity="1"/>
<polyline points="520.80,745.70 522.80,750.20 520.80,754.70" fill="none" stroke="#fff" stroke-width="0.7" stroke-opacity="1"/>
<polyline points="546.70,745.70 548.70,750.20 546.70,754.70" fill="none" stroke="#fff" stroke-width="0.7" stroke-opacity="1"/>
<polyline points="573.40,745.70 575.40,750.20 573.40,754.70" fill="none" stroke="#fff" stroke-width="0.7" stroke-opacity="1"/>
<polyline points="606.20,745.70 608.20,750.20 606.20,754.70" fill="none" stroke="#fff" stroke-width="0.7" stroke-opacity="1"/>
<path d="M649 745.7 L832 745.7 L832 754.7 L649 754.7 Z" fill="#008ae8"/>
<path d="M832 745.7 L837.6 745.7 L836 750.2 L837.6 754.7 L832 754.7 Z" fill="#a8d0f4"/>
<polyline points="745.50,745.70 743.50,750.20 745.50,754.70" fill="none" stroke="#fff" stroke-width="0.7" stroke-opacity="1"/>
<polyline points="770.80,745.70 768.80,750.20 770.80,754.70" fill="none" stroke="#fff" stroke-width="0.7" stroke-opacity="1"/>
<polyline points="793.10,745.70 791.10,750.20 793.10,754.70" fill="none" stroke="#fff" stroke-width="0.7" stroke-opacity="1"/>
<polyline points="803.60,745.70 801.60,750.20 803.60,754.70" fill="none" stroke="#fff" stroke-width="0.7" stroke-opacity="1"/>
<polyline points="811.60,745.70 809.60,750.20 811.60,754.70" fill="none" stroke="#fff" stroke-width="0.7" stroke-opacity="1"/>
<polyline points="817.20,745.70 815.20,750.20 817.20,754.70" fill="none" stroke="#fff" stroke-width="0.7" stroke-opacity="1"/>
<polyline points="821.50,745.70 819.50,750.20 821.50,754.70" fill="none" stroke="#fff" stroke-width="0.7" stroke-opacity="1"/>
<polyline points="825.80,745.70 823.80,750.20 825.80,754.70" fill="none" stroke="#fff" stroke-width="0.7" stroke-opacity="1"/>
<polyline points="828.90,745.70 826.90,750.20 828.90,754.70" fill="none" stroke="#fff" stroke-width="0.7" stroke-opacity="1"/>
<polyline points="831.40,745.70 829.40,750.20 831.40,754.70" fill="none" stroke="#fff" stroke-width="0.7" stroke-opacity="1"/>
<polyline points="833.20,745.70 831.20,750.20 833.20,754.70" fill="none" stroke="#fff" stroke-width="0.7" stroke-opacity="1"/>
<polyline points="835.10,745.70 833.10,750.20 835.10,754.70" fill="none" stroke="#fff" stroke-width="0.7" stroke-opacity="1"/>
<polyline points="836.60,745.70 834.60,750.20 836.60,754.70" fill="none" stroke="#fff" stroke-width="0.7" stroke-opacity="1"/>
<g clip-path="url(#clipd)">
<text x="80.00" y="767.80" text-anchor="end" font-family="'Liberation Sans', sans-serif" font-size="6.1" font-weight="normal" fill="#ff0052">Bicarbonate (HCO₃−) = -0.2033</text>
<text x="85.60" y="767.80" text-anchor="start" font-family="'Liberation Sans', sans-serif" font-size="6.1" font-weight="normal" fill="#ff0052" textLength="53.80" lengthAdjust="spacingAndGlyphs">Osmolality = 0.5754</text>
<text x="145.00" y="767.80" text-anchor="start" font-family="'Liberation Sans', sans-serif" font-size="6.1" font-weight="normal" fill="#ff0052" textLength="94.00" lengthAdjust="spacingAndGlyphs">Arterial Base Excess (BE) = -3.509</text>
<text x="245.00" y="767.80" text-anchor="start" font-family="'Liberation Sans', sans-serif" font-size="6.1" font-weight="normal" fill="#ff0052" textLength="57.00" lengthAdjust="spacingAndGlyphs">Arterial pH = -0.6954</text>
<text x="307.50" y="767.80" text-anchor="start" font-family="'Liberation Sans', sans-serif" font-size="6.1" font-weight="normal" fill="#ff0052" textLength="87.30" lengthAdjust="spacingAndGlyphs">Leukocyte Count (WBC) = 1.892</text>
<text x="401.00" y="767.80" text-anchor="start" font-family="'Liberation Sans', sans-serif" font-size="6.1" font-weight="normal" fill="#ff0052" textLength="145.30" lengthAdjust="spacingAndGlyphs">Estimated Glomerular Filtration Rate (eGFR) = -1.021</text>
<text x="551.90" y="767.80" text-anchor="start" font-family="'Liberation Sans', sans-serif" font-size="6.1" font-weight="normal" fill="#ff0052" textLength="94.00" lengthAdjust="spacingAndGlyphs">Fibrin D-Dimer (D-Dimer) = 0.7567</text>
<text x="651.50" y="767.80" text-anchor="start" font-family="'Liberation Sans', sans-serif" font-size="6.1" font-weight="normal" fill="#008ae8" textLength="112.40" lengthAdjust="spacingAndGlyphs">Basophil Percentage (%BASO) = -0.5544</text>
<text x="769.40" y="767.80" text-anchor="start" font-family="'Liberation Sans', sans-serif" font-size="6.1" font-weight="normal" fill="#008ae8" textLength="68.60" lengthAdjust="spacingAndGlyphs">Admission Age = -0.2848</text>
<text x="843.00" y="767.80" text-anchor="start" font-family="'Liberation Sans', sans-serif" font-size="6.1" font-weight="normal" fill="#008ae8" textLength="64.50" lengthAdjust="spacingAndGlyphs">Phosphorus (P) = 3.411</text>
<text x="913.00" y="767.80" text-anchor="start" font-family="'Liberation Sans', sans-serif" font-size="6.1" font-weight="normal" fill="#008ae8" textLength="60.00" lengthAdjust="spacingAndGlyphs">Monocyte Count = 1.4</text>
</g>
</svg>
</body></html>
